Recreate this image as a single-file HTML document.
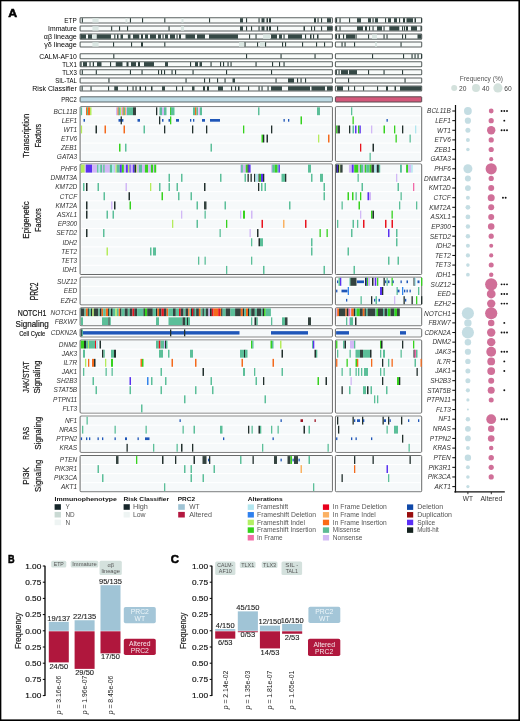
<!DOCTYPE html>
<html><head><meta charset="utf-8"><style>
html,body{margin:0;padding:0;background:#fff;}
svg{display:block;will-change:transform;}
text{font-family:"Liberation Sans",sans-serif;}
</style></head><body>
<svg width="520" height="721" viewBox="0 0 520 721" font-family="Liberation Sans, sans-serif">
<rect x="0" y="0" width="520" height="721" fill="#fff"/>
<text x="8.20" y="16.60" font-size="11.8" fill="#000" font-weight="bold" textLength="8.9" lengthAdjust="spacingAndGlyphs" stroke="#000" stroke-width="0.55">A</text>
<text x="76.80" y="22.80" font-size="6.8" text-anchor="end" textLength="12.5" lengthAdjust="spacingAndGlyphs">ETP</text>
<rect x="80.10" y="17.80" width="252.30" height="5.10" rx="0.7" fill="#f8fbfa" stroke="#5a6160" stroke-width="1.05"/>
<rect x="92.40" y="18.20" width="6.20" height="4.30" fill="#dce8e4"/>
<rect x="125.50" y="18.20" width="1.90" height="4.30" fill="#dce8e4"/>
<rect x="181.50" y="18.20" width="2.00" height="4.30" fill="#dce8e4"/>
<rect x="81.80" y="18.20" width="1.10" height="4.30" fill="#2a3b38"/>
<rect x="129.90" y="18.20" width="1.10" height="4.30" fill="#2a3b38"/>
<rect x="142.00" y="18.20" width="1.10" height="4.30" fill="#2a3b38"/>
<rect x="164.25" y="18.20" width="1.10" height="4.30" fill="#2a3b38"/>
<rect x="209.00" y="18.20" width="1.10" height="4.30" fill="#2a3b38"/>
<rect x="240.00" y="18.20" width="3.00" height="4.30" fill="#354845"/>
<rect x="246.00" y="18.20" width="1.10" height="4.30" fill="#2a3b38"/>
<rect x="258.50" y="18.20" width="1.10" height="4.30" fill="#2a3b38"/>
<rect x="261.50" y="18.20" width="3.00" height="4.30" fill="#354845"/>
<rect x="266.50" y="18.20" width="1.50" height="4.30" fill="#2a3b38"/>
<rect x="269.00" y="18.20" width="2.00" height="4.30" fill="#2a3b38"/>
<rect x="314.00" y="18.20" width="2.00" height="4.30" fill="#2a3b38"/>
<rect x="317.50" y="18.20" width="1.10" height="4.30" fill="#2a3b38"/>
<rect x="321.00" y="18.20" width="1.10" height="4.30" fill="#2a3b38"/>
<rect x="327.00" y="18.20" width="4.00" height="4.30" fill="#354845"/>
<rect x="335.40" y="17.80" width="86.30" height="5.10" rx="0.7" fill="#f8fbfa" stroke="#5a6160" stroke-width="1.05"/>
<rect x="336.00" y="18.20" width="1.10" height="4.30" fill="#2a3b38"/>
<rect x="339.50" y="18.20" width="1.10" height="4.30" fill="#2a3b38"/>
<rect x="349.00" y="18.20" width="1.10" height="4.30" fill="#2a3b38"/>
<rect x="357.00" y="18.20" width="4.00" height="4.30" fill="#354845"/>
<rect x="368.00" y="18.20" width="3.00" height="4.30" fill="#354845"/>
<rect x="372.50" y="18.20" width="1.10" height="4.30" fill="#2a3b38"/>
<rect x="375.00" y="18.20" width="3.00" height="4.30" fill="#354845"/>
<rect x="385.00" y="18.20" width="1.10" height="4.30" fill="#2a3b38"/>
<rect x="388.00" y="18.20" width="3.00" height="4.30" fill="#354845"/>
<rect x="394.00" y="18.20" width="3.00" height="4.30" fill="#354845"/>
<rect x="399.00" y="18.20" width="1.10" height="4.30" fill="#2a3b38"/>
<rect x="403.00" y="18.20" width="2.00" height="4.30" fill="#2a3b38"/>
<rect x="406.50" y="18.20" width="6.50" height="4.30" fill="#354845"/>
<rect x="414.50" y="18.20" width="1.50" height="4.30" fill="#2a3b38"/>
<rect x="421.00" y="18.20" width="1.10" height="4.30" fill="#2a3b38"/>
<text x="76.80" y="30.90" font-size="6.8" text-anchor="end" textLength="28.7" lengthAdjust="spacingAndGlyphs">Immature</text>
<rect x="80.10" y="25.90" width="252.30" height="5.10" rx="0.7" fill="#f8fbfa" stroke="#5a6160" stroke-width="1.05"/>
<rect x="92.40" y="26.30" width="6.20" height="4.30" fill="#dce8e4"/>
<rect x="181.00" y="26.30" width="3.00" height="4.30" fill="#dce8e4"/>
<rect x="111.10" y="26.30" width="1.10" height="4.30" fill="#2a3b38"/>
<rect x="119.00" y="26.30" width="1.10" height="4.30" fill="#2a3b38"/>
<rect x="127.00" y="26.30" width="1.10" height="4.30" fill="#2a3b38"/>
<rect x="168.50" y="26.30" width="1.10" height="4.30" fill="#2a3b38"/>
<rect x="240.00" y="26.30" width="3.00" height="4.30" fill="#354845"/>
<rect x="246.00" y="26.30" width="1.10" height="4.30" fill="#2a3b38"/>
<rect x="251.00" y="26.30" width="1.10" height="4.30" fill="#2a3b38"/>
<rect x="258.50" y="26.30" width="1.10" height="4.30" fill="#2a3b38"/>
<rect x="261.50" y="26.30" width="3.00" height="4.30" fill="#354845"/>
<rect x="266.50" y="26.30" width="1.50" height="4.30" fill="#2a3b38"/>
<rect x="269.00" y="26.30" width="2.00" height="4.30" fill="#2a3b38"/>
<rect x="277.00" y="26.30" width="1.10" height="4.30" fill="#2a3b38"/>
<rect x="303.50" y="26.30" width="1.50" height="4.30" fill="#2a3b38"/>
<rect x="311.00" y="26.30" width="1.10" height="4.30" fill="#2a3b38"/>
<rect x="314.00" y="26.30" width="1.10" height="4.30" fill="#2a3b38"/>
<rect x="321.00" y="26.30" width="1.10" height="4.30" fill="#2a3b38"/>
<rect x="327.00" y="26.30" width="5.00" height="4.30" fill="#354845"/>
<rect x="335.40" y="25.90" width="86.30" height="5.10" rx="0.7" fill="#f8fbfa" stroke="#5a6160" stroke-width="1.05"/>
<rect x="336.00" y="26.30" width="1.10" height="4.30" fill="#2a3b38"/>
<rect x="339.50" y="26.30" width="1.10" height="4.30" fill="#2a3b38"/>
<rect x="357.00" y="26.30" width="6.00" height="4.30" fill="#354845"/>
<rect x="365.00" y="26.30" width="2.00" height="4.30" fill="#2a3b38"/>
<rect x="369.00" y="26.30" width="1.10" height="4.30" fill="#2a3b38"/>
<rect x="372.50" y="26.30" width="1.10" height="4.30" fill="#2a3b38"/>
<rect x="377.00" y="26.30" width="5.00" height="4.30" fill="#354845"/>
<rect x="383.50" y="26.30" width="1.10" height="4.30" fill="#2a3b38"/>
<rect x="389.30" y="26.30" width="10.00" height="4.30" fill="#354845"/>
<rect x="402.00" y="26.30" width="1.10" height="4.30" fill="#2a3b38"/>
<rect x="404.00" y="26.30" width="1.10" height="4.30" fill="#2a3b38"/>
<rect x="406.00" y="26.30" width="2.00" height="4.30" fill="#2a3b38"/>
<rect x="411.00" y="26.30" width="6.00" height="4.30" fill="#354845"/>
<rect x="420.50" y="26.30" width="1.10" height="4.30" fill="#2a3b38"/>
<text x="76.80" y="39.00" font-size="6.8" text-anchor="end" textLength="33.0" lengthAdjust="spacingAndGlyphs">αβ lineage</text>
<rect x="80.10" y="34.00" width="252.30" height="5.10" rx="0.7" fill="#f8fbfa" stroke="#5a6160" stroke-width="1.05"/>
<rect x="92.40" y="34.40" width="4.20" height="4.30" fill="#dce8e4"/>
<rect x="263.00" y="34.40" width="7.00" height="4.30" fill="#dce8e4"/>
<rect x="80.50" y="34.40" width="1.10" height="4.30" fill="#2a3b38"/>
<rect x="81.00" y="34.40" width="5.00" height="4.30" fill="#354845"/>
<rect x="88.00" y="34.40" width="4.00" height="4.30" fill="#354845"/>
<rect x="96.75" y="34.40" width="14.25" height="4.30" fill="#354845"/>
<rect x="114.25" y="34.40" width="1.10" height="4.30" fill="#2a3b38"/>
<rect x="117.00" y="34.40" width="1.50" height="4.30" fill="#2a3b38"/>
<rect x="120.50" y="34.40" width="2.50" height="4.30" fill="#354845"/>
<rect x="127.90" y="34.40" width="2.60" height="4.30" fill="#354845"/>
<rect x="133.00" y="34.40" width="6.25" height="4.30" fill="#354845"/>
<rect x="141.00" y="34.40" width="2.00" height="4.30" fill="#2a3b38"/>
<rect x="145.00" y="34.40" width="3.00" height="4.30" fill="#354845"/>
<rect x="150.00" y="34.40" width="6.00" height="4.30" fill="#354845"/>
<rect x="158.00" y="34.40" width="3.00" height="4.30" fill="#354845"/>
<rect x="162.50" y="34.40" width="1.10" height="4.30" fill="#2a3b38"/>
<rect x="165.00" y="34.40" width="3.00" height="4.30" fill="#354845"/>
<rect x="170.00" y="34.40" width="5.00" height="4.30" fill="#354845"/>
<rect x="176.50" y="34.40" width="1.10" height="4.30" fill="#2a3b38"/>
<rect x="179.00" y="34.40" width="2.00" height="4.30" fill="#2a3b38"/>
<rect x="185.50" y="34.40" width="9.50" height="4.30" fill="#354845"/>
<rect x="197.00" y="34.40" width="8.00" height="4.30" fill="#354845"/>
<rect x="209.00" y="34.40" width="29.00" height="4.30" fill="#354845"/>
<rect x="249.00" y="34.40" width="1.10" height="4.30" fill="#2a3b38"/>
<rect x="255.50" y="34.40" width="1.10" height="4.30" fill="#2a3b38"/>
<rect x="271.00" y="34.40" width="6.00" height="4.30" fill="#354845"/>
<rect x="279.00" y="34.40" width="3.00" height="4.30" fill="#354845"/>
<rect x="283.50" y="34.40" width="1.10" height="4.30" fill="#2a3b38"/>
<rect x="288.00" y="34.40" width="14.00" height="4.30" fill="#354845"/>
<rect x="305.00" y="34.40" width="1.10" height="4.30" fill="#2a3b38"/>
<rect x="310.00" y="34.40" width="1.50" height="4.30" fill="#2a3b38"/>
<rect x="313.00" y="34.40" width="1.10" height="4.30" fill="#2a3b38"/>
<rect x="317.00" y="34.40" width="1.50" height="4.30" fill="#2a3b38"/>
<rect x="335.40" y="34.00" width="86.30" height="5.10" rx="0.7" fill="#f8fbfa" stroke="#5a6160" stroke-width="1.05"/>
<rect x="372.00" y="34.40" width="5.00" height="4.30" fill="#dce8e4"/>
<rect x="335.80" y="34.40" width="1.20" height="4.30" fill="#2a3b38"/>
<rect x="338.50" y="34.40" width="1.50" height="4.30" fill="#2a3b38"/>
<rect x="343.00" y="34.40" width="1.10" height="4.30" fill="#2a3b38"/>
<rect x="346.00" y="34.40" width="9.00" height="4.30" fill="#354845"/>
<rect x="355.50" y="34.40" width="1.10" height="4.30" fill="#2a3b38"/>
<rect x="368.00" y="34.40" width="1.10" height="4.30" fill="#2a3b38"/>
<rect x="383.50" y="34.40" width="1.10" height="4.30" fill="#2a3b38"/>
<rect x="386.50" y="34.40" width="1.10" height="4.30" fill="#2a3b38"/>
<rect x="402.00" y="34.40" width="1.10" height="4.30" fill="#2a3b38"/>
<rect x="405.00" y="34.40" width="1.10" height="4.30" fill="#2a3b38"/>
<rect x="417.50" y="34.40" width="3.80" height="4.30" fill="#354845"/>
<text x="76.80" y="46.90" font-size="6.8" text-anchor="end" textLength="32.5" lengthAdjust="spacingAndGlyphs">γδ lineage</text>
<rect x="80.10" y="41.90" width="252.30" height="5.10" rx="0.7" fill="#f8fbfa" stroke="#5a6160" stroke-width="1.05"/>
<rect x="92.40" y="42.30" width="6.20" height="4.30" fill="#dce8e4"/>
<rect x="239.00" y="42.30" width="5.00" height="4.30" fill="#dce8e4"/>
<rect x="260.00" y="42.30" width="5.00" height="4.30" fill="#dce8e4"/>
<rect x="113.00" y="42.30" width="1.10" height="4.30" fill="#2a3b38"/>
<rect x="131.00" y="42.30" width="1.10" height="4.30" fill="#2a3b38"/>
<rect x="141.00" y="42.30" width="2.00" height="4.30" fill="#2a3b38"/>
<rect x="164.25" y="42.30" width="1.10" height="4.30" fill="#2a3b38"/>
<rect x="244.50" y="42.30" width="1.10" height="4.30" fill="#2a3b38"/>
<rect x="257.00" y="42.30" width="1.10" height="4.30" fill="#2a3b38"/>
<rect x="265.00" y="42.30" width="1.10" height="4.30" fill="#2a3b38"/>
<rect x="282.00" y="42.30" width="1.10" height="4.30" fill="#2a3b38"/>
<rect x="285.00" y="42.30" width="1.10" height="4.30" fill="#2a3b38"/>
<rect x="302.00" y="42.30" width="1.10" height="4.30" fill="#2a3b38"/>
<rect x="316.00" y="42.30" width="1.10" height="4.30" fill="#2a3b38"/>
<rect x="324.00" y="42.30" width="1.10" height="4.30" fill="#2a3b38"/>
<rect x="335.40" y="41.90" width="86.30" height="5.10" rx="0.7" fill="#f8fbfa" stroke="#5a6160" stroke-width="1.05"/>
<rect x="375.00" y="42.30" width="2.00" height="4.30" fill="#dce8e4"/>
<rect x="341.50" y="42.30" width="1.10" height="4.30" fill="#2a3b38"/>
<rect x="344.50" y="42.30" width="1.10" height="4.30" fill="#2a3b38"/>
<rect x="354.00" y="42.30" width="1.10" height="4.30" fill="#2a3b38"/>
<rect x="400.50" y="42.30" width="1.10" height="4.30" fill="#2a3b38"/>
<text x="76.80" y="58.70" font-size="6.8" text-anchor="end" textLength="37.5" lengthAdjust="spacingAndGlyphs">CALM-AF10</text>
<rect x="80.10" y="53.70" width="252.30" height="5.10" rx="0.7" fill="#f8fbfa" stroke="#5a6160" stroke-width="1.05"/>
<rect x="113.25" y="54.10" width="1.10" height="4.30" fill="#2a3b38"/>
<rect x="246.00" y="54.10" width="1.10" height="4.30" fill="#2a3b38"/>
<rect x="280.50" y="54.10" width="1.10" height="4.30" fill="#2a3b38"/>
<rect x="314.50" y="54.10" width="1.10" height="4.30" fill="#2a3b38"/>
<rect x="335.40" y="53.70" width="86.30" height="5.10" rx="0.7" fill="#f8fbfa" stroke="#5a6160" stroke-width="1.05"/>
<rect x="372.00" y="54.10" width="1.10" height="4.30" fill="#2a3b38"/>
<rect x="403.00" y="54.10" width="1.10" height="4.30" fill="#2a3b38"/>
<rect x="411.50" y="54.10" width="1.10" height="4.30" fill="#2a3b38"/>
<rect x="414.50" y="54.10" width="1.10" height="4.30" fill="#2a3b38"/>
<rect x="417.50" y="54.10" width="1.10" height="4.30" fill="#2a3b38"/>
<rect x="421.00" y="54.10" width="1.10" height="4.30" fill="#2a3b38"/>
<text x="76.80" y="66.70" font-size="6.8" text-anchor="end" textLength="14.5" lengthAdjust="spacingAndGlyphs">TLX1</text>
<rect x="80.10" y="61.70" width="252.30" height="5.10" rx="0.7" fill="#f8fbfa" stroke="#5a6160" stroke-width="1.05"/>
<rect x="80.50" y="62.10" width="1.10" height="4.30" fill="#2a3b38"/>
<rect x="83.00" y="62.10" width="4.00" height="4.30" fill="#354845"/>
<rect x="89.50" y="62.10" width="1.10" height="4.30" fill="#2a3b38"/>
<rect x="92.75" y="62.10" width="1.25" height="4.30" fill="#2a3b38"/>
<rect x="97.00" y="62.10" width="4.50" height="4.30" fill="#354845"/>
<rect x="110.00" y="62.10" width="1.10" height="4.30" fill="#2a3b38"/>
<rect x="115.75" y="62.10" width="6.75" height="4.30" fill="#354845"/>
<rect x="126.50" y="62.10" width="2.00" height="4.30" fill="#2a3b38"/>
<rect x="131.00" y="62.10" width="5.00" height="4.30" fill="#354845"/>
<rect x="138.00" y="62.10" width="2.00" height="4.30" fill="#2a3b38"/>
<rect x="144.00" y="62.10" width="10.00" height="4.30" fill="#354845"/>
<rect x="165.00" y="62.10" width="3.00" height="4.30" fill="#354845"/>
<rect x="190.00" y="62.10" width="1.10" height="4.30" fill="#2a3b38"/>
<rect x="195.00" y="62.10" width="3.00" height="4.30" fill="#354845"/>
<rect x="199.50" y="62.10" width="2.50" height="4.30" fill="#354845"/>
<rect x="210.50" y="62.10" width="1.10" height="4.30" fill="#2a3b38"/>
<rect x="220.00" y="62.10" width="1.10" height="4.30" fill="#2a3b38"/>
<rect x="223.00" y="62.10" width="1.10" height="4.30" fill="#2a3b38"/>
<rect x="227.50" y="62.10" width="1.10" height="4.30" fill="#2a3b38"/>
<rect x="230.50" y="62.10" width="1.10" height="4.30" fill="#2a3b38"/>
<rect x="255.50" y="62.10" width="1.10" height="4.30" fill="#2a3b38"/>
<rect x="272.00" y="62.10" width="1.10" height="4.30" fill="#2a3b38"/>
<rect x="279.00" y="62.10" width="1.10" height="4.30" fill="#2a3b38"/>
<rect x="283.50" y="62.10" width="1.10" height="4.30" fill="#2a3b38"/>
<rect x="335.40" y="61.70" width="86.30" height="5.10" rx="0.7" fill="#f8fbfa" stroke="#5a6160" stroke-width="1.05"/>
<text x="76.80" y="74.70" font-size="6.8" text-anchor="end" textLength="14.5" lengthAdjust="spacingAndGlyphs">TLX3</text>
<rect x="80.10" y="69.70" width="252.30" height="5.10" rx="0.7" fill="#f8fbfa" stroke="#5a6160" stroke-width="1.05"/>
<rect x="81.75" y="70.10" width="1.10" height="4.30" fill="#2a3b38"/>
<rect x="95.75" y="70.10" width="1.10" height="4.30" fill="#2a3b38"/>
<rect x="129.90" y="70.10" width="1.10" height="4.30" fill="#2a3b38"/>
<rect x="141.50" y="70.10" width="1.10" height="4.30" fill="#2a3b38"/>
<rect x="158.00" y="70.10" width="1.10" height="4.30" fill="#2a3b38"/>
<rect x="161.00" y="70.10" width="1.10" height="4.30" fill="#2a3b38"/>
<rect x="164.00" y="70.10" width="1.10" height="4.30" fill="#2a3b38"/>
<rect x="171.50" y="70.10" width="1.10" height="4.30" fill="#2a3b38"/>
<rect x="175.00" y="70.10" width="1.10" height="4.30" fill="#2a3b38"/>
<rect x="192.50" y="70.10" width="1.10" height="4.30" fill="#2a3b38"/>
<rect x="226.00" y="70.10" width="1.10" height="4.30" fill="#2a3b38"/>
<rect x="271.00" y="70.10" width="1.10" height="4.30" fill="#2a3b38"/>
<rect x="335.40" y="69.70" width="86.30" height="5.10" rx="0.7" fill="#f8fbfa" stroke="#5a6160" stroke-width="1.05"/>
<rect x="335.80" y="70.10" width="1.10" height="4.30" fill="#2a3b38"/>
<rect x="338.50" y="70.10" width="1.10" height="4.30" fill="#2a3b38"/>
<rect x="341.00" y="70.10" width="7.00" height="4.30" fill="#354845"/>
<rect x="349.00" y="70.10" width="8.00" height="4.30" fill="#354845"/>
<rect x="368.00" y="70.10" width="1.10" height="4.30" fill="#2a3b38"/>
<rect x="383.50" y="70.10" width="1.10" height="4.30" fill="#2a3b38"/>
<rect x="402.00" y="70.10" width="1.10" height="4.30" fill="#2a3b38"/>
<text x="76.80" y="82.90" font-size="6.8" text-anchor="end" textLength="21.5" lengthAdjust="spacingAndGlyphs">SIL-TAL</text>
<rect x="80.10" y="77.90" width="252.30" height="5.10" rx="0.7" fill="#f8fbfa" stroke="#5a6160" stroke-width="1.05"/>
<rect x="108.40" y="78.30" width="1.10" height="4.30" fill="#2a3b38"/>
<rect x="185.50" y="78.30" width="1.10" height="4.30" fill="#2a3b38"/>
<rect x="204.00" y="78.30" width="1.10" height="4.30" fill="#2a3b38"/>
<rect x="209.00" y="78.30" width="1.10" height="4.30" fill="#2a3b38"/>
<rect x="217.00" y="78.30" width="1.10" height="4.30" fill="#2a3b38"/>
<rect x="224.50" y="78.30" width="1.10" height="4.30" fill="#2a3b38"/>
<rect x="232.50" y="78.30" width="2.50" height="4.30" fill="#354845"/>
<rect x="275.50" y="78.30" width="1.10" height="4.30" fill="#2a3b38"/>
<rect x="288.00" y="78.30" width="6.00" height="4.30" fill="#354845"/>
<rect x="297.00" y="78.30" width="1.10" height="4.30" fill="#2a3b38"/>
<rect x="300.50" y="78.30" width="1.10" height="4.30" fill="#2a3b38"/>
<rect x="305.00" y="78.30" width="1.10" height="4.30" fill="#2a3b38"/>
<rect x="335.40" y="77.90" width="86.30" height="5.10" rx="0.7" fill="#f8fbfa" stroke="#5a6160" stroke-width="1.05"/>
<rect x="348.00" y="78.30" width="1.10" height="4.30" fill="#2a3b38"/>
<rect x="404.50" y="78.30" width="1.10" height="4.30" fill="#2a3b38"/>
<text x="76.80" y="90.90" font-size="6.8" text-anchor="end" textLength="44.5" lengthAdjust="spacingAndGlyphs">Risk Classifier</text>
<rect x="80.10" y="85.90" width="252.30" height="5.10" rx="0.7" fill="#f8fbfa" stroke="#5a6160" stroke-width="1.05"/>
<rect x="81.60" y="86.30" width="1.10" height="4.30" fill="#2a3b38"/>
<rect x="90.50" y="86.30" width="1.10" height="4.30" fill="#2a3b38"/>
<rect x="108.00" y="86.30" width="1.10" height="4.30" fill="#2a3b38"/>
<rect x="114.25" y="86.30" width="3.75" height="4.30" fill="#354845"/>
<rect x="127.00" y="86.30" width="1.10" height="4.30" fill="#2a3b38"/>
<rect x="132.50" y="86.30" width="1.10" height="4.30" fill="#2a3b38"/>
<rect x="135.50" y="86.30" width="1.10" height="4.30" fill="#2a3b38"/>
<rect x="139.50" y="86.30" width="1.50" height="4.30" fill="#2a3b38"/>
<rect x="145.00" y="86.30" width="1.10" height="4.30" fill="#2a3b38"/>
<rect x="151.00" y="86.30" width="1.50" height="4.30" fill="#2a3b38"/>
<rect x="162.00" y="86.30" width="3.00" height="4.30" fill="#354845"/>
<rect x="176.00" y="86.30" width="1.10" height="4.30" fill="#2a3b38"/>
<rect x="182.00" y="86.30" width="1.10" height="4.30" fill="#2a3b38"/>
<rect x="192.00" y="86.30" width="2.50" height="4.30" fill="#354845"/>
<rect x="203.00" y="86.30" width="2.00" height="4.30" fill="#2a3b38"/>
<rect x="207.00" y="86.30" width="2.00" height="4.30" fill="#2a3b38"/>
<rect x="218.00" y="86.30" width="5.00" height="4.30" fill="#354845"/>
<rect x="231.00" y="86.30" width="1.10" height="4.30" fill="#2a3b38"/>
<rect x="235.00" y="86.30" width="1.10" height="4.30" fill="#2a3b38"/>
<rect x="238.00" y="86.30" width="1.50" height="4.30" fill="#2a3b38"/>
<rect x="248.00" y="86.30" width="1.10" height="4.30" fill="#2a3b38"/>
<rect x="258.50" y="86.30" width="1.10" height="4.30" fill="#2a3b38"/>
<rect x="261.50" y="86.30" width="1.10" height="4.30" fill="#2a3b38"/>
<rect x="267.50" y="86.30" width="1.10" height="4.30" fill="#2a3b38"/>
<rect x="271.00" y="86.30" width="11.00" height="4.30" fill="#354845"/>
<rect x="288.00" y="86.30" width="22.00" height="4.30" fill="#354845"/>
<rect x="311.50" y="86.30" width="13.50" height="4.30" fill="#354845"/>
<rect x="327.00" y="86.30" width="5.00" height="4.30" fill="#354845"/>
<rect x="335.40" y="85.90" width="86.30" height="5.10" rx="0.7" fill="#f8fbfa" stroke="#5a6160" stroke-width="1.05"/>
<rect x="337.00" y="86.30" width="6.00" height="4.30" fill="#354845"/>
<rect x="348.00" y="86.30" width="1.10" height="4.30" fill="#2a3b38"/>
<rect x="354.00" y="86.30" width="1.10" height="4.30" fill="#2a3b38"/>
<rect x="363.00" y="86.30" width="1.10" height="4.30" fill="#2a3b38"/>
<rect x="377.00" y="86.30" width="1.10" height="4.30" fill="#2a3b38"/>
<rect x="386.00" y="86.30" width="2.00" height="4.30" fill="#2a3b38"/>
<rect x="394.50" y="86.30" width="1.50" height="4.30" fill="#2a3b38"/>
<rect x="400.00" y="86.30" width="21.30" height="4.30" fill="#354845"/>
<text x="76.80" y="101.85" font-size="6.8" text-anchor="end" textLength="15.5" lengthAdjust="spacingAndGlyphs">PRC2</text>
<rect x="80.10" y="96.80" width="252.30" height="5.20" rx="0.6" fill="#bfdbe5" stroke="#5f686a" stroke-width="1"/>
<rect x="335.40" y="96.80" width="86.30" height="5.20" rx="0.6" fill="#d3587a" stroke="#5a4b50" stroke-width="1"/>
<rect x="80.10" y="106.70" width="252.30" height="54.60" rx="0.9" fill="#ffffff" stroke="#686a6a" stroke-width="1"/>
<rect x="81.40" y="107.25" width="249.70" height="8.00" fill="#f6f9fa"/>
<rect x="81.40" y="116.35" width="249.70" height="8.00" fill="#f6f9fa"/>
<rect x="81.40" y="125.45" width="249.70" height="8.00" fill="#f6f9fa"/>
<rect x="81.40" y="134.55" width="249.70" height="8.00" fill="#f6f9fa"/>
<rect x="81.40" y="143.65" width="249.70" height="8.00" fill="#f6f9fa"/>
<rect x="81.40" y="152.75" width="249.70" height="8.00" fill="#f6f9fa"/>
<rect x="335.40" y="106.70" width="86.30" height="54.60" rx="0.9" fill="#ffffff" stroke="#686a6a" stroke-width="1"/>
<rect x="336.70" y="107.25" width="83.70" height="8.00" fill="#f6f9fa"/>
<rect x="336.70" y="116.35" width="83.70" height="8.00" fill="#f6f9fa"/>
<rect x="336.70" y="125.45" width="83.70" height="8.00" fill="#f6f9fa"/>
<rect x="336.70" y="134.55" width="83.70" height="8.00" fill="#f6f9fa"/>
<rect x="336.70" y="143.65" width="83.70" height="8.00" fill="#f6f9fa"/>
<rect x="336.70" y="152.75" width="83.70" height="8.00" fill="#f6f9fa"/>
<text x="77.20" y="113.55" font-size="6.5" fill="#333" text-anchor="end" font-style="italic">BCL11B</text>
<rect x="80.80" y="107.30" width="1.30" height="7.90" fill="#5cbf99"/>
<rect x="86.00" y="107.30" width="1.30" height="7.90" fill="#f46a1c"/>
<rect x="87.00" y="107.30" width="1.30" height="7.90" fill="#5cbf99"/>
<rect x="88.00" y="107.30" width="2.00" height="7.90" fill="#f46a1c"/>
<rect x="90.00" y="107.30" width="1.50" height="7.90" fill="#b5ec5c"/>
<rect x="116.00" y="107.30" width="1.50" height="7.90" fill="#d2b8f6"/>
<rect x="117.50" y="107.30" width="1.30" height="7.90" fill="#f46a1c"/>
<rect x="118.50" y="107.30" width="1.50" height="7.90" fill="#5cbf99"/>
<rect x="120.00" y="107.30" width="1.30" height="7.90" fill="#b5ec5c"/>
<rect x="121.00" y="107.30" width="1.50" height="7.90" fill="#d2b8f6"/>
<rect x="122.50" y="107.30" width="1.30" height="7.90" fill="#f46a1c"/>
<rect x="123.50" y="107.30" width="1.50" height="7.90" fill="#5cbf99"/>
<rect x="125.00" y="107.30" width="1.30" height="7.90" fill="#f9b262"/>
<rect x="126.00" y="107.30" width="1.30" height="7.90" fill="#d2b8f6"/>
<rect x="127.00" y="107.30" width="6.00" height="7.90" fill="#5cbf99"/>
<rect x="133.00" y="107.30" width="3.00" height="7.90" fill="#34433f"/>
<rect x="156.00" y="107.30" width="1.30" height="7.90" fill="#22302d"/>
<rect x="159.50" y="107.30" width="2.50" height="7.90" fill="#5cbf99"/>
<rect x="162.00" y="107.30" width="2.00" height="7.90" fill="#d2b8f6"/>
<rect x="164.00" y="107.30" width="2.50" height="7.90" fill="#5cbf99"/>
<rect x="170.00" y="107.30" width="1.30" height="7.90" fill="#36d21e"/>
<rect x="170.80" y="107.30" width="3.70" height="7.90" fill="#5cbf99"/>
<rect x="193.00" y="107.30" width="2.00" height="7.90" fill="#5cbf99"/>
<rect x="195.00" y="107.30" width="1.50" height="7.90" fill="#f46a1c"/>
<rect x="196.50" y="107.30" width="1.50" height="7.90" fill="#5cbf99"/>
<rect x="198.50" y="107.30" width="1.50" height="7.90" fill="#d2b8f6"/>
<rect x="200.00" y="107.30" width="2.00" height="7.90" fill="#5cbf99"/>
<rect x="258.00" y="107.30" width="1.50" height="7.90" fill="#5cbf99"/>
<rect x="317.00" y="107.30" width="3.00" height="7.90" fill="#5cbf99"/>
<rect x="351.00" y="107.30" width="1.30" height="7.90" fill="#5cbf99"/>
<text x="77.20" y="122.65" font-size="6.5" fill="#333" text-anchor="end" font-style="italic">LEF1</text>
<rect x="83.50" y="119.00" width="1.50" height="2.70" fill="#1f56b8"/>
<rect x="118.50" y="119.00" width="4.90" height="2.70" fill="#1f56b8"/>
<rect x="120.60" y="116.40" width="1.30" height="7.90" fill="#22302d"/>
<rect x="137.50" y="119.00" width="2.50" height="2.70" fill="#1f56b8"/>
<rect x="159.00" y="116.40" width="1.30" height="7.90" fill="#22302d"/>
<rect x="162.00" y="119.00" width="1.50" height="2.70" fill="#1f56b8"/>
<rect x="168.50" y="119.00" width="1.50" height="2.70" fill="#1f56b8"/>
<rect x="170.00" y="116.40" width="1.30" height="7.90" fill="#36d21e"/>
<rect x="176.00" y="119.00" width="3.00" height="2.70" fill="#1f56b8"/>
<rect x="190.00" y="119.00" width="1.30" height="2.70" fill="#1f56b8"/>
<rect x="193.00" y="119.00" width="1.30" height="2.70" fill="#1f56b8"/>
<rect x="202.00" y="119.00" width="3.00" height="2.70" fill="#1f56b8"/>
<rect x="210.00" y="119.00" width="10.00" height="2.70" fill="#1f56b8"/>
<rect x="283.50" y="119.00" width="1.30" height="2.70" fill="#1f56b8"/>
<rect x="288.00" y="119.00" width="1.30" height="2.70" fill="#1f56b8"/>
<rect x="300.50" y="116.40" width="1.50" height="7.90" fill="#36d21e"/>
<rect x="352.50" y="116.40" width="1.30" height="7.90" fill="#36d21e"/>
<rect x="386.50" y="119.00" width="1.30" height="2.70" fill="#1f56b8"/>
<text x="77.20" y="131.75" font-size="6.5" fill="#333" text-anchor="end" font-style="italic">WT1</text>
<rect x="80.80" y="125.50" width="1.30" height="7.90" fill="#b5ec5c"/>
<rect x="95.50" y="125.50" width="1.50" height="7.90" fill="#22302d"/>
<rect x="104.50" y="125.50" width="1.50" height="7.90" fill="#f46a1c"/>
<rect x="123.50" y="125.50" width="1.50" height="7.90" fill="#f46a1c"/>
<rect x="143.50" y="125.50" width="1.50" height="7.90" fill="#5cbf99"/>
<rect x="164.00" y="125.50" width="1.30" height="7.90" fill="#22302d"/>
<rect x="192.00" y="125.50" width="1.30" height="7.90" fill="#22302d"/>
<rect x="206.00" y="125.50" width="1.30" height="7.90" fill="#22302d"/>
<rect x="243.00" y="125.50" width="1.30" height="7.90" fill="#36d21e"/>
<rect x="271.00" y="125.50" width="1.30" height="7.90" fill="#22302d"/>
<rect x="336.10" y="125.50" width="1.30" height="7.90" fill="#36d21e"/>
<rect x="337.50" y="125.50" width="2.50" height="7.90" fill="#34433f"/>
<rect x="349.00" y="125.50" width="1.30" height="7.90" fill="#22302d"/>
<rect x="352.50" y="125.50" width="1.50" height="7.90" fill="#5cbf99"/>
<rect x="355.00" y="125.50" width="1.50" height="7.90" fill="#5a32f0"/>
<rect x="358.00" y="125.50" width="1.50" height="7.90" fill="#36d21e"/>
<rect x="359.50" y="125.50" width="1.30" height="7.90" fill="#5a32f0"/>
<rect x="371.00" y="125.50" width="1.30" height="7.90" fill="#d2b8f6"/>
<rect x="383.50" y="125.50" width="1.50" height="7.90" fill="#36d21e"/>
<rect x="394.00" y="125.50" width="1.30" height="7.90" fill="#36d21e"/>
<rect x="402.00" y="125.50" width="1.30" height="7.90" fill="#22302d"/>
<rect x="415.00" y="125.50" width="1.30" height="7.90" fill="#b0e6ef"/>
<text x="77.20" y="140.85" font-size="6.5" fill="#333" text-anchor="end" font-style="italic">ETV6</text>
<rect x="261.50" y="134.60" width="1.50" height="7.90" fill="#36d21e"/>
<rect x="263.00" y="134.60" width="1.30" height="7.90" fill="#22302d"/>
<rect x="266.50" y="134.60" width="1.50" height="7.90" fill="#22302d"/>
<rect x="318.00" y="134.60" width="1.30" height="7.90" fill="#b5ec5c"/>
<rect x="328.00" y="134.60" width="1.50" height="7.90" fill="#f46a1c"/>
<rect x="395.50" y="134.60" width="1.30" height="7.90" fill="#36d21e"/>
<rect x="409.50" y="134.60" width="1.30" height="7.90" fill="#5cbf99"/>
<text x="77.20" y="149.95" font-size="6.5" fill="#333" text-anchor="end" font-style="italic">ZEB1</text>
<rect x="119.00" y="143.70" width="1.50" height="7.90" fill="#36d21e"/>
<rect x="125.00" y="143.70" width="1.50" height="7.90" fill="#5cbf99"/>
<rect x="210.50" y="143.70" width="1.50" height="7.90" fill="#5cbf99"/>
<rect x="360.00" y="143.70" width="1.30" height="7.90" fill="#e8141e"/>
<rect x="372.50" y="143.70" width="1.50" height="7.90" fill="#22302d"/>
<text x="77.20" y="159.05" font-size="6.5" fill="#333" text-anchor="end" font-style="italic">GATA3</text>
<rect x="369.50" y="152.80" width="1.30" height="7.90" fill="#5cbf99"/>
<rect x="80.10" y="164.00" width="252.30" height="110.50" rx="0.9" fill="#ffffff" stroke="#686a6a" stroke-width="1"/>
<rect x="81.40" y="164.55" width="249.70" height="8.11" fill="#f6f9fa"/>
<rect x="81.40" y="173.76" width="249.70" height="8.11" fill="#f6f9fa"/>
<rect x="81.40" y="182.97" width="249.70" height="8.11" fill="#f6f9fa"/>
<rect x="81.40" y="192.18" width="249.70" height="8.11" fill="#f6f9fa"/>
<rect x="81.40" y="201.38" width="249.70" height="8.11" fill="#f6f9fa"/>
<rect x="81.40" y="210.59" width="249.70" height="8.11" fill="#f6f9fa"/>
<rect x="81.40" y="219.80" width="249.70" height="8.11" fill="#f6f9fa"/>
<rect x="81.40" y="229.01" width="249.70" height="8.11" fill="#f6f9fa"/>
<rect x="81.40" y="238.22" width="249.70" height="8.11" fill="#f6f9fa"/>
<rect x="81.40" y="247.43" width="249.70" height="8.11" fill="#f6f9fa"/>
<rect x="81.40" y="256.63" width="249.70" height="8.11" fill="#f6f9fa"/>
<rect x="81.40" y="265.84" width="249.70" height="8.11" fill="#f6f9fa"/>
<rect x="335.40" y="164.00" width="86.30" height="110.50" rx="0.9" fill="#ffffff" stroke="#686a6a" stroke-width="1"/>
<rect x="336.70" y="164.55" width="83.70" height="8.11" fill="#f6f9fa"/>
<rect x="336.70" y="173.76" width="83.70" height="8.11" fill="#f6f9fa"/>
<rect x="336.70" y="182.97" width="83.70" height="8.11" fill="#f6f9fa"/>
<rect x="336.70" y="192.18" width="83.70" height="8.11" fill="#f6f9fa"/>
<rect x="336.70" y="201.38" width="83.70" height="8.11" fill="#f6f9fa"/>
<rect x="336.70" y="210.59" width="83.70" height="8.11" fill="#f6f9fa"/>
<rect x="336.70" y="219.80" width="83.70" height="8.11" fill="#f6f9fa"/>
<rect x="336.70" y="229.01" width="83.70" height="8.11" fill="#f6f9fa"/>
<rect x="336.70" y="238.22" width="83.70" height="8.11" fill="#f6f9fa"/>
<rect x="336.70" y="247.43" width="83.70" height="8.11" fill="#f6f9fa"/>
<rect x="336.70" y="256.63" width="83.70" height="8.11" fill="#f6f9fa"/>
<rect x="336.70" y="265.84" width="83.70" height="8.11" fill="#f6f9fa"/>
<text x="77.20" y="170.90" font-size="6.5" fill="#333" text-anchor="end" font-style="italic">PHF6</text>
<rect x="80.80" y="164.60" width="1.30" height="8.01" fill="#5cbf99"/>
<rect x="80.90" y="164.60" width="3.90" height="8.01" fill="#b5ec5c"/>
<rect x="84.80" y="164.60" width="1.30" height="8.01" fill="#d2b8f6"/>
<rect x="85.90" y="164.60" width="6.20" height="8.01" fill="#5a32f0"/>
<rect x="92.10" y="164.60" width="5.00" height="8.01" fill="#d2b8f6"/>
<rect x="97.10" y="164.60" width="1.50" height="8.01" fill="#5cbf99"/>
<rect x="98.60" y="164.60" width="1.60" height="8.01" fill="#b0e6ef"/>
<rect x="100.20" y="164.60" width="1.90" height="8.01" fill="#5cbf99"/>
<rect x="102.10" y="164.60" width="1.30" height="8.01" fill="#d2b8f6"/>
<rect x="103.20" y="164.60" width="1.60" height="8.01" fill="#5cbf99"/>
<rect x="104.80" y="164.60" width="5.00" height="8.01" fill="#d2b8f6"/>
<rect x="109.80" y="164.60" width="2.30" height="8.01" fill="#5cbf99"/>
<rect x="112.10" y="164.60" width="1.90" height="8.01" fill="#b0e6ef"/>
<rect x="114.00" y="164.60" width="1.50" height="8.01" fill="#d2b8f6"/>
<rect x="115.50" y="164.60" width="1.30" height="8.01" fill="#b5ec5c"/>
<rect x="116.70" y="164.60" width="3.10" height="8.01" fill="#5cbf99"/>
<rect x="119.80" y="164.60" width="2.00" height="8.01" fill="#5a32f0"/>
<rect x="121.80" y="164.60" width="2.10" height="8.01" fill="#36d21e"/>
<rect x="123.90" y="164.60" width="2.00" height="8.01" fill="#d2b8f6"/>
<rect x="125.90" y="164.60" width="2.00" height="8.01" fill="#5a32f0"/>
<rect x="127.90" y="164.60" width="1.60" height="8.01" fill="#b5ec5c"/>
<rect x="129.50" y="164.60" width="1.30" height="8.01" fill="#5a32f0"/>
<rect x="130.70" y="164.60" width="2.10" height="8.01" fill="#d2b8f6"/>
<rect x="132.80" y="164.60" width="1.60" height="8.01" fill="#5a32f0"/>
<rect x="134.40" y="164.60" width="1.60" height="8.01" fill="#22302d"/>
<rect x="136.00" y="164.60" width="1.30" height="8.01" fill="#b5ec5c"/>
<rect x="136.80" y="164.60" width="2.00" height="8.01" fill="#d2b8f6"/>
<rect x="138.80" y="164.60" width="3.20" height="8.01" fill="#5cbf99"/>
<rect x="142.00" y="164.60" width="2.90" height="8.01" fill="#d2b8f6"/>
<rect x="144.90" y="164.60" width="3.20" height="8.01" fill="#36d21e"/>
<rect x="148.10" y="164.60" width="2.80" height="8.01" fill="#d2b8f6"/>
<rect x="150.90" y="164.60" width="2.10" height="8.01" fill="#36d21e"/>
<rect x="153.00" y="164.60" width="1.30" height="8.01" fill="#d2b8f6"/>
<rect x="154.20" y="164.60" width="2.00" height="8.01" fill="#36d21e"/>
<rect x="240.20" y="164.60" width="1.30" height="8.01" fill="#d2b8f6"/>
<rect x="241.10" y="164.60" width="1.80" height="8.01" fill="#5cbf99"/>
<rect x="242.90" y="164.60" width="2.80" height="8.01" fill="#d2b8f6"/>
<rect x="245.70" y="164.60" width="1.80" height="8.01" fill="#36d21e"/>
<rect x="247.50" y="164.60" width="1.30" height="8.01" fill="#22302d"/>
<rect x="248.50" y="164.60" width="2.10" height="8.01" fill="#5a32f0"/>
<rect x="271.10" y="164.60" width="1.30" height="8.01" fill="#d2b8f6"/>
<rect x="272.20" y="164.60" width="2.60" height="8.01" fill="#5cbf99"/>
<rect x="274.80" y="164.60" width="2.30" height="8.01" fill="#36d21e"/>
<rect x="277.10" y="164.60" width="1.40" height="8.01" fill="#5cbf99"/>
<rect x="278.50" y="164.60" width="1.40" height="8.01" fill="#5a32f0"/>
<rect x="308.00" y="164.60" width="3.00" height="8.01" fill="#5cbf99"/>
<rect x="336.10" y="164.60" width="1.30" height="8.01" fill="#36d21e"/>
<rect x="336.10" y="164.60" width="1.30" height="8.01" fill="#22302d"/>
<rect x="336.80" y="164.60" width="1.30" height="8.01" fill="#5a32f0"/>
<rect x="337.80" y="164.60" width="1.45" height="8.01" fill="#22302d"/>
<rect x="339.25" y="164.60" width="1.30" height="8.01" fill="#b5ec5c"/>
<rect x="340.20" y="164.60" width="2.40" height="8.01" fill="#34433f"/>
<rect x="348.90" y="164.60" width="2.85" height="8.01" fill="#d2b8f6"/>
<rect x="351.75" y="164.60" width="1.95" height="8.01" fill="#5a32f0"/>
<rect x="354.20" y="164.60" width="4.30" height="8.01" fill="#36d21e"/>
<rect x="358.50" y="164.60" width="1.40" height="8.01" fill="#d2b8f6"/>
<rect x="359.90" y="164.60" width="1.30" height="8.01" fill="#36d21e"/>
<rect x="360.80" y="164.60" width="2.50" height="8.01" fill="#5cbf99"/>
<rect x="363.30" y="164.60" width="1.40" height="8.01" fill="#d2b8f6"/>
<rect x="364.70" y="164.60" width="1.50" height="8.01" fill="#36d21e"/>
<rect x="366.20" y="164.60" width="3.30" height="8.01" fill="#5cbf99"/>
<rect x="369.50" y="164.60" width="2.00" height="8.01" fill="#36d21e"/>
<rect x="371.50" y="164.60" width="2.80" height="8.01" fill="#34433f"/>
<rect x="374.30" y="164.60" width="2.45" height="8.01" fill="#b0e6ef"/>
<rect x="376.75" y="164.60" width="2.15" height="8.01" fill="#22302d"/>
<rect x="378.90" y="164.60" width="1.30" height="8.01" fill="#5cbf99"/>
<rect x="400.00" y="164.60" width="1.90" height="8.01" fill="#5cbf99"/>
<rect x="406.10" y="164.60" width="2.00" height="8.01" fill="#36d21e"/>
<rect x="408.10" y="164.60" width="3.10" height="8.01" fill="#d2b8f6"/>
<rect x="411.20" y="164.60" width="1.50" height="8.01" fill="#b0e6ef"/>
<text x="77.20" y="180.11" font-size="6.5" fill="#333" text-anchor="end" font-style="italic">DNMT3A</text>
<rect x="168.50" y="173.81" width="1.50" height="8.01" fill="#5cbf99"/>
<rect x="181.00" y="173.81" width="1.50" height="8.01" fill="#5cbf99"/>
<rect x="220.00" y="173.81" width="1.50" height="8.01" fill="#5cbf99"/>
<rect x="244.50" y="173.81" width="1.50" height="8.01" fill="#5cbf99"/>
<rect x="247.50" y="173.81" width="1.30" height="8.01" fill="#22302d"/>
<rect x="250.50" y="173.81" width="1.30" height="8.01" fill="#22302d"/>
<rect x="254.00" y="173.81" width="1.30" height="8.01" fill="#22302d"/>
<rect x="255.50" y="173.81" width="2.50" height="8.01" fill="#b0e6ef"/>
<rect x="258.50" y="173.81" width="1.30" height="8.01" fill="#22302d"/>
<rect x="259.50" y="173.81" width="1.50" height="8.01" fill="#36d21e"/>
<rect x="261.00" y="173.81" width="2.00" height="8.01" fill="#5a32f0"/>
<rect x="263.00" y="173.81" width="1.30" height="8.01" fill="#22302d"/>
<rect x="281.50" y="173.81" width="3.50" height="8.01" fill="#5cbf99"/>
<rect x="285.00" y="173.81" width="1.30" height="8.01" fill="#22302d"/>
<rect x="311.00" y="173.81" width="1.50" height="8.01" fill="#5cbf99"/>
<rect x="320.00" y="173.81" width="3.00" height="8.01" fill="#5cbf99"/>
<rect x="357.50" y="173.81" width="1.30" height="8.01" fill="#5cbf99"/>
<rect x="396.00" y="173.81" width="1.30" height="8.01" fill="#d2b8f6"/>
<text x="77.20" y="189.32" font-size="6.5" fill="#333" text-anchor="end" font-style="italic">KMT2D</text>
<rect x="83.00" y="183.02" width="1.50" height="8.01" fill="#5cbf99"/>
<rect x="86.00" y="183.02" width="1.50" height="8.01" fill="#22302d"/>
<rect x="97.50" y="183.02" width="1.50" height="8.01" fill="#5cbf99"/>
<rect x="125.50" y="183.02" width="1.50" height="8.01" fill="#d2b8f6"/>
<rect x="150.00" y="183.02" width="1.30" height="8.01" fill="#b5ec5c"/>
<rect x="159.00" y="183.02" width="1.50" height="8.01" fill="#5cbf99"/>
<rect x="168.50" y="183.02" width="1.50" height="8.01" fill="#5cbf99"/>
<rect x="176.50" y="183.02" width="1.50" height="8.01" fill="#5cbf99"/>
<rect x="204.00" y="183.02" width="1.50" height="8.01" fill="#22302d"/>
<rect x="258.00" y="183.02" width="1.30" height="8.01" fill="#22302d"/>
<rect x="261.00" y="183.02" width="1.50" height="8.01" fill="#5cbf99"/>
<rect x="264.50" y="183.02" width="1.50" height="8.01" fill="#5cbf99"/>
<rect x="323.50" y="183.02" width="1.50" height="8.01" fill="#5cbf99"/>
<rect x="361.50" y="183.02" width="1.50" height="8.01" fill="#5cbf99"/>
<rect x="397.50" y="183.02" width="1.50" height="8.01" fill="#5cbf99"/>
<rect x="413.00" y="183.02" width="1.30" height="8.01" fill="#f06aa8"/>
<text x="77.20" y="198.53" font-size="6.5" fill="#333" text-anchor="end" font-style="italic">CTCF</text>
<rect x="103.50" y="192.22" width="1.50" height="8.01" fill="#5cbf99"/>
<rect x="128.50" y="192.22" width="1.50" height="8.01" fill="#22302d"/>
<rect x="161.50" y="192.22" width="1.50" height="8.01" fill="#36d21e"/>
<rect x="178.00" y="192.22" width="1.50" height="8.01" fill="#5cbf99"/>
<rect x="190.50" y="192.22" width="1.50" height="8.01" fill="#5cbf99"/>
<rect x="323.50" y="192.22" width="1.50" height="8.01" fill="#5cbf99"/>
<rect x="347.50" y="192.22" width="1.50" height="8.01" fill="#36d21e"/>
<rect x="352.00" y="192.22" width="1.50" height="8.01" fill="#36d21e"/>
<rect x="355.50" y="192.22" width="1.30" height="8.01" fill="#5cbf99"/>
<rect x="360.00" y="192.22" width="1.30" height="8.01" fill="#36d21e"/>
<rect x="367.50" y="192.22" width="1.50" height="8.01" fill="#5a32f0"/>
<rect x="369.00" y="192.22" width="2.00" height="8.01" fill="#d2b8f6"/>
<rect x="400.50" y="192.22" width="1.30" height="8.01" fill="#5cbf99"/>
<text x="77.20" y="207.74" font-size="6.5" fill="#333" text-anchor="end" font-style="italic">KMT2A</text>
<rect x="86.00" y="201.43" width="1.50" height="8.01" fill="#22302d"/>
<rect x="111.00" y="201.43" width="1.50" height="8.01" fill="#d2b8f6"/>
<rect x="114.00" y="201.43" width="1.50" height="8.01" fill="#22302d"/>
<rect x="129.50" y="201.43" width="1.50" height="8.01" fill="#36d21e"/>
<rect x="196.50" y="201.43" width="1.50" height="8.01" fill="#5cbf99"/>
<rect x="204.00" y="201.43" width="2.50" height="8.01" fill="#34433f"/>
<rect x="224.50" y="201.43" width="1.50" height="8.01" fill="#5cbf99"/>
<rect x="289.00" y="201.43" width="1.50" height="8.01" fill="#5cbf99"/>
<rect x="341.50" y="201.43" width="1.30" height="8.01" fill="#5cbf99"/>
<rect x="358.50" y="201.43" width="1.50" height="8.01" fill="#36d21e"/>
<rect x="399.00" y="201.43" width="1.30" height="8.01" fill="#5cbf99"/>
<rect x="416.00" y="201.43" width="1.30" height="8.01" fill="#5cbf99"/>
<text x="77.20" y="216.95" font-size="6.5" fill="#333" text-anchor="end" font-style="italic">ASXL1</text>
<rect x="86.00" y="210.64" width="1.50" height="8.01" fill="#22302d"/>
<rect x="106.50" y="210.64" width="1.50" height="8.01" fill="#5cbf99"/>
<rect x="112.50" y="210.64" width="1.50" height="8.01" fill="#5cbf99"/>
<rect x="181.00" y="210.64" width="1.30" height="8.01" fill="#d2b8f6"/>
<rect x="204.50" y="210.64" width="1.30" height="8.01" fill="#5cbf99"/>
<rect x="240.00" y="210.64" width="1.30" height="8.01" fill="#d2b8f6"/>
<rect x="243.00" y="210.64" width="2.00" height="8.01" fill="#36d21e"/>
<rect x="251.00" y="210.64" width="1.50" height="8.01" fill="#d2b8f6"/>
<rect x="360.00" y="210.64" width="1.30" height="8.01" fill="#d2b8f6"/>
<rect x="371.00" y="210.64" width="1.50" height="8.01" fill="#36d21e"/>
<rect x="372.50" y="210.64" width="1.50" height="8.01" fill="#22302d"/>
<rect x="391.50" y="210.64" width="1.30" height="8.01" fill="#36d21e"/>
<text x="77.20" y="226.15" font-size="6.5" fill="#333" text-anchor="end" font-style="italic">EP300</text>
<rect x="172.00" y="219.85" width="1.30" height="8.01" fill="#b5ec5c"/>
<rect x="196.50" y="219.85" width="1.50" height="8.01" fill="#5cbf99"/>
<rect x="226.00" y="219.85" width="1.30" height="8.01" fill="#36d21e"/>
<rect x="261.50" y="219.85" width="1.50" height="8.01" fill="#e8141e"/>
<rect x="283.00" y="219.85" width="1.50" height="8.01" fill="#f9b262"/>
<rect x="305.00" y="219.85" width="1.50" height="8.01" fill="#e8141e"/>
<rect x="337.00" y="219.85" width="1.30" height="8.01" fill="#5cbf99"/>
<rect x="352.50" y="219.85" width="1.50" height="8.01" fill="#5cbf99"/>
<rect x="357.00" y="219.85" width="1.30" height="8.01" fill="#5cbf99"/>
<rect x="363.00" y="219.85" width="1.50" height="8.01" fill="#e8141e"/>
<rect x="385.00" y="219.85" width="1.50" height="8.01" fill="#e8141e"/>
<rect x="391.50" y="219.85" width="1.50" height="8.01" fill="#e8141e"/>
<text x="77.20" y="235.36" font-size="6.5" fill="#333" text-anchor="end" font-style="italic">SETD2</text>
<rect x="86.00" y="229.06" width="1.50" height="8.01" fill="#22302d"/>
<rect x="103.00" y="229.06" width="1.50" height="8.01" fill="#5cbf99"/>
<rect x="219.50" y="229.06" width="1.30" height="8.01" fill="#5cbf99"/>
<rect x="249.50" y="229.06" width="1.30" height="8.01" fill="#d2b8f6"/>
<rect x="257.00" y="229.06" width="1.50" height="8.01" fill="#22302d"/>
<rect x="319.50" y="229.06" width="1.30" height="8.01" fill="#36d21e"/>
<rect x="326.50" y="229.06" width="1.30" height="8.01" fill="#36d21e"/>
<rect x="351.00" y="229.06" width="1.50" height="8.01" fill="#5cbf99"/>
<rect x="388.00" y="229.06" width="1.50" height="8.01" fill="#5a32f0"/>
<rect x="396.00" y="229.06" width="1.50" height="8.01" fill="#5cbf99"/>
<text x="77.20" y="244.57" font-size="6.5" fill="#333" text-anchor="end" font-style="italic">IDH2</text>
<rect x="251.00" y="238.27" width="1.30" height="8.01" fill="#5cbf99"/>
<rect x="258.50" y="238.27" width="1.50" height="8.01" fill="#22302d"/>
<rect x="260.00" y="238.27" width="3.00" height="8.01" fill="#5cbf99"/>
<rect x="311.00" y="238.27" width="1.50" height="8.01" fill="#5cbf99"/>
<rect x="396.00" y="238.27" width="1.50" height="8.01" fill="#5cbf99"/>
<text x="77.20" y="253.78" font-size="6.5" fill="#333" text-anchor="end" font-style="italic">TET2</text>
<rect x="106.50" y="247.47" width="1.50" height="8.01" fill="#b5ec5c"/>
<rect x="150.00" y="247.47" width="1.50" height="8.01" fill="#5cbf99"/>
<rect x="153.00" y="247.47" width="3.00" height="8.01" fill="#5cbf99"/>
<rect x="311.00" y="247.47" width="1.50" height="8.01" fill="#5cbf99"/>
<rect x="347.50" y="247.47" width="1.50" height="8.01" fill="#5cbf99"/>
<text x="77.20" y="262.99" font-size="6.5" fill="#333" text-anchor="end" font-style="italic">TET3</text>
<rect x="198.00" y="256.68" width="1.30" height="8.01" fill="#5cbf99"/>
<rect x="204.50" y="256.68" width="1.30" height="8.01" fill="#5cbf99"/>
<rect x="251.00" y="256.68" width="1.30" height="8.01" fill="#5cbf99"/>
<rect x="388.00" y="256.68" width="1.50" height="8.01" fill="#5cbf99"/>
<rect x="397.50" y="256.68" width="1.50" height="8.01" fill="#5cbf99"/>
<text x="77.20" y="272.20" font-size="6.5" fill="#333" text-anchor="end" font-style="italic">IDH1</text>
<rect x="226.00" y="265.89" width="1.30" height="8.01" fill="#5cbf99"/>
<rect x="263.00" y="265.89" width="1.50" height="8.01" fill="#5cbf99"/>
<rect x="323.50" y="265.89" width="1.50" height="8.01" fill="#5cbf99"/>
<rect x="353.50" y="265.89" width="1.50" height="8.01" fill="#5cbf99"/>
<rect x="80.10" y="277.20" width="252.30" height="27.60" rx="0.9" fill="#ffffff" stroke="#686a6a" stroke-width="1"/>
<rect x="81.40" y="277.75" width="249.70" height="8.10" fill="#f6f9fa"/>
<rect x="81.40" y="286.95" width="249.70" height="8.10" fill="#f6f9fa"/>
<rect x="81.40" y="296.15" width="249.70" height="8.10" fill="#f6f9fa"/>
<rect x="335.40" y="277.20" width="86.30" height="27.60" rx="0.9" fill="#ffffff" stroke="#686a6a" stroke-width="1"/>
<rect x="336.70" y="277.75" width="83.70" height="8.10" fill="#f6f9fa"/>
<rect x="336.70" y="286.95" width="83.70" height="8.10" fill="#f6f9fa"/>
<rect x="336.70" y="296.15" width="83.70" height="8.10" fill="#f6f9fa"/>
<text x="77.20" y="284.10" font-size="6.5" fill="#333" text-anchor="end" font-style="italic">SUZ12</text>
<rect x="337.00" y="280.45" width="1.30" height="2.70" fill="#1f56b8"/>
<rect x="338.50" y="277.80" width="1.50" height="8.00" fill="#5cbf99"/>
<rect x="340.00" y="277.80" width="1.30" height="8.00" fill="#5a32f0"/>
<rect x="349.50" y="277.80" width="1.30" height="8.00" fill="#5cbf99"/>
<rect x="350.50" y="277.80" width="6.00" height="8.00" fill="#34433f"/>
<rect x="357.00" y="280.45" width="7.00" height="2.70" fill="#1f56b8"/>
<rect x="365.00" y="277.80" width="1.30" height="8.00" fill="#22302d"/>
<rect x="366.00" y="277.80" width="1.30" height="8.00" fill="#5a32f0"/>
<rect x="366.80" y="277.80" width="1.30" height="8.00" fill="#36d21e"/>
<rect x="368.00" y="277.80" width="2.00" height="8.00" fill="#d2b8f6"/>
<rect x="372.00" y="277.80" width="1.50" height="8.00" fill="#22302d"/>
<rect x="374.00" y="277.80" width="1.30" height="8.00" fill="#d2b8f6"/>
<rect x="375.00" y="277.80" width="1.30" height="8.00" fill="#5a32f0"/>
<rect x="376.00" y="277.80" width="1.30" height="8.00" fill="#d2b8f6"/>
<rect x="377.00" y="277.80" width="1.30" height="8.00" fill="#36d21e"/>
<rect x="383.50" y="277.80" width="1.30" height="8.00" fill="#22302d"/>
<rect x="385.00" y="280.45" width="1.30" height="2.70" fill="#1f56b8"/>
<rect x="386.50" y="277.80" width="1.30" height="8.00" fill="#5cbf99"/>
<rect x="388.00" y="280.45" width="1.50" height="2.70" fill="#1f56b8"/>
<rect x="391.50" y="277.80" width="1.30" height="8.00" fill="#36d21e"/>
<rect x="392.50" y="280.45" width="1.30" height="2.70" fill="#1f56b8"/>
<rect x="400.50" y="280.45" width="1.30" height="2.70" fill="#1f56b8"/>
<rect x="406.50" y="280.45" width="1.50" height="2.70" fill="#1f56b8"/>
<rect x="413.50" y="277.80" width="1.30" height="8.00" fill="#22302d"/>
<rect x="414.50" y="277.80" width="1.50" height="8.00" fill="#b0e6ef"/>
<rect x="417.50" y="280.45" width="2.00" height="2.70" fill="#1f56b8"/>
<rect x="421.00" y="277.80" width="1.30" height="8.00" fill="#36d21e"/>
<text x="77.20" y="293.30" font-size="6.5" fill="#333" text-anchor="end" font-style="italic">EED</text>
<rect x="336.10" y="289.65" width="1.30" height="2.70" fill="#1f56b8"/>
<rect x="341.50" y="289.65" width="6.00" height="2.70" fill="#1f56b8"/>
<rect x="347.70" y="287.00" width="1.30" height="8.00" fill="#3384ea"/>
<rect x="380.00" y="287.00" width="2.00" height="8.00" fill="#5a32f0"/>
<rect x="382.00" y="287.00" width="1.30" height="8.00" fill="#22302d"/>
<rect x="396.50" y="287.00" width="1.30" height="8.00" fill="#5cbf99"/>
<rect x="397.50" y="289.65" width="2.00" height="2.70" fill="#1f56b8"/>
<rect x="402.00" y="287.00" width="1.30" height="8.00" fill="#3384ea"/>
<rect x="404.00" y="289.65" width="1.30" height="2.70" fill="#1f56b8"/>
<rect x="406.50" y="289.65" width="1.30" height="2.70" fill="#1f56b8"/>
<rect x="409.50" y="289.65" width="1.30" height="2.70" fill="#1f56b8"/>
<rect x="418.00" y="287.00" width="1.30" height="8.00" fill="#5cbf99"/>
<text x="77.20" y="302.50" font-size="6.5" fill="#333" text-anchor="end" font-style="italic">EZH2</text>
<rect x="346.00" y="298.85" width="1.30" height="2.70" fill="#1f56b8"/>
<rect x="360.50" y="296.20" width="1.30" height="8.00" fill="#5cbf99"/>
<rect x="371.00" y="296.20" width="1.30" height="8.00" fill="#22302d"/>
<rect x="374.00" y="298.85" width="1.30" height="2.70" fill="#1f56b8"/>
<rect x="375.50" y="296.20" width="1.50" height="8.00" fill="#5cbf99"/>
<rect x="378.50" y="298.85" width="1.50" height="2.70" fill="#1f56b8"/>
<rect x="394.00" y="296.20" width="1.30" height="8.00" fill="#d2b8f6"/>
<rect x="403.50" y="296.20" width="1.30" height="8.00" fill="#22302d"/>
<rect x="405.00" y="298.85" width="1.30" height="2.70" fill="#1f56b8"/>
<rect x="411.50" y="296.20" width="1.30" height="8.00" fill="#22302d"/>
<rect x="416.00" y="296.20" width="1.30" height="8.00" fill="#36d21e"/>
<rect x="421.00" y="296.20" width="1.30" height="8.00" fill="#22302d"/>
<rect x="80.10" y="307.80" width="252.30" height="17.90" rx="0.9" fill="#ffffff" stroke="#686a6a" stroke-width="1"/>
<rect x="81.40" y="308.35" width="249.70" height="7.85" fill="#f6f9fa"/>
<rect x="81.40" y="317.30" width="249.70" height="7.85" fill="#f6f9fa"/>
<rect x="335.40" y="307.80" width="86.30" height="17.90" rx="0.9" fill="#ffffff" stroke="#686a6a" stroke-width="1"/>
<rect x="336.70" y="308.35" width="83.70" height="7.85" fill="#f6f9fa"/>
<rect x="336.70" y="317.30" width="83.70" height="7.85" fill="#f6f9fa"/>
<text x="77.20" y="314.57" font-size="6.5" fill="#333" text-anchor="end" font-style="italic">NOTCH1</text>
<rect x="80.80" y="308.40" width="1.30" height="7.75" fill="#5cbf99"/>
<rect x="80.80" y="308.40" width="3.70" height="7.75" fill="#34433f"/>
<rect x="84.50" y="308.40" width="1.40" height="7.75" fill="#5cbf99"/>
<rect x="85.90" y="308.40" width="1.90" height="7.75" fill="#f46a1c"/>
<rect x="87.80" y="308.40" width="1.30" height="7.75" fill="#22302d"/>
<rect x="88.70" y="308.40" width="2.30" height="7.75" fill="#5cbf99"/>
<rect x="91.00" y="308.40" width="1.40" height="7.75" fill="#22302d"/>
<rect x="92.40" y="308.40" width="1.40" height="7.75" fill="#b5ec5c"/>
<rect x="93.80" y="308.40" width="4.60" height="7.75" fill="#34433f"/>
<rect x="98.40" y="308.40" width="1.40" height="7.75" fill="#5cbf99"/>
<rect x="99.80" y="308.40" width="1.80" height="7.75" fill="#22302d"/>
<rect x="101.60" y="308.40" width="1.60" height="7.75" fill="#f46a1c"/>
<rect x="103.20" y="308.40" width="2.60" height="7.75" fill="#5cbf99"/>
<rect x="105.80" y="308.40" width="2.30" height="7.75" fill="#f46a1c"/>
<rect x="108.10" y="308.40" width="1.30" height="7.75" fill="#22302d"/>
<rect x="109.00" y="308.40" width="1.90" height="7.75" fill="#5cbf99"/>
<rect x="110.90" y="308.40" width="1.80" height="7.75" fill="#22302d"/>
<rect x="112.70" y="308.40" width="2.80" height="7.75" fill="#5cbf99"/>
<rect x="115.50" y="308.40" width="1.40" height="7.75" fill="#b5ec5c"/>
<rect x="116.90" y="308.40" width="1.80" height="7.75" fill="#5cbf99"/>
<rect x="118.70" y="308.40" width="1.40" height="7.75" fill="#f46a1c"/>
<rect x="120.10" y="308.40" width="1.40" height="7.75" fill="#22302d"/>
<rect x="121.50" y="308.40" width="3.20" height="7.75" fill="#5cbf99"/>
<rect x="124.70" y="308.40" width="3.10" height="7.75" fill="#34433f"/>
<rect x="127.80" y="308.40" width="1.90" height="7.75" fill="#5cbf99"/>
<rect x="129.70" y="308.40" width="2.80" height="7.75" fill="#34433f"/>
<rect x="132.50" y="308.40" width="1.80" height="7.75" fill="#e8141e"/>
<rect x="134.30" y="308.40" width="2.80" height="7.75" fill="#34433f"/>
<rect x="137.10" y="308.40" width="6.40" height="7.75" fill="#5cbf99"/>
<rect x="143.50" y="308.40" width="1.40" height="7.75" fill="#22302d"/>
<rect x="144.90" y="308.40" width="2.30" height="7.75" fill="#36d21e"/>
<rect x="147.20" y="308.40" width="5.60" height="7.75" fill="#34433f"/>
<rect x="152.80" y="308.40" width="3.20" height="7.75" fill="#5cbf99"/>
<rect x="156.00" y="308.40" width="1.40" height="7.75" fill="#22302d"/>
<rect x="157.40" y="308.40" width="1.70" height="7.75" fill="#f46a1c"/>
<rect x="159.10" y="308.40" width="2.40" height="7.75" fill="#34433f"/>
<rect x="161.50" y="308.40" width="2.40" height="7.75" fill="#e8141e"/>
<rect x="163.90" y="308.40" width="2.70" height="7.75" fill="#34433f"/>
<rect x="166.60" y="308.40" width="1.70" height="7.75" fill="#f46a1c"/>
<rect x="168.30" y="308.40" width="4.70" height="7.75" fill="#5cbf99"/>
<rect x="173.00" y="308.40" width="2.80" height="7.75" fill="#34433f"/>
<rect x="175.80" y="308.40" width="3.20" height="7.75" fill="#5cbf99"/>
<rect x="179.00" y="308.40" width="1.80" height="7.75" fill="#e8141e"/>
<rect x="180.80" y="308.40" width="2.80" height="7.75" fill="#34433f"/>
<rect x="183.60" y="308.40" width="1.90" height="7.75" fill="#5cbf99"/>
<rect x="185.50" y="308.40" width="2.70" height="7.75" fill="#34433f"/>
<rect x="188.20" y="308.40" width="1.40" height="7.75" fill="#f46a1c"/>
<rect x="189.60" y="308.40" width="1.40" height="7.75" fill="#5cbf99"/>
<rect x="191.00" y="308.40" width="1.30" height="7.75" fill="#22302d"/>
<rect x="191.90" y="308.40" width="1.40" height="7.75" fill="#e8141e"/>
<rect x="193.30" y="308.40" width="1.40" height="7.75" fill="#22302d"/>
<rect x="194.70" y="308.40" width="1.40" height="7.75" fill="#5cbf99"/>
<rect x="196.10" y="308.40" width="2.80" height="7.75" fill="#34433f"/>
<rect x="198.90" y="308.40" width="1.80" height="7.75" fill="#f46a1c"/>
<rect x="200.70" y="308.40" width="1.80" height="7.75" fill="#5cbf99"/>
<rect x="202.50" y="308.40" width="1.40" height="7.75" fill="#22302d"/>
<rect x="203.90" y="308.40" width="1.90" height="7.75" fill="#5cbf99"/>
<rect x="205.80" y="308.40" width="2.70" height="7.75" fill="#34433f"/>
<rect x="208.50" y="308.40" width="1.40" height="7.75" fill="#d2b8f6"/>
<rect x="209.90" y="308.40" width="1.90" height="7.75" fill="#22302d"/>
<rect x="211.80" y="308.40" width="1.80" height="7.75" fill="#e8141e"/>
<rect x="213.60" y="308.40" width="4.60" height="7.75" fill="#f46a1c"/>
<rect x="218.20" y="308.40" width="1.80" height="7.75" fill="#e8141e"/>
<rect x="220.00" y="308.40" width="1.30" height="7.75" fill="#f46a1c"/>
<rect x="221.20" y="308.40" width="1.40" height="7.75" fill="#22302d"/>
<rect x="222.60" y="308.40" width="3.10" height="7.75" fill="#5cbf99"/>
<rect x="225.70" y="308.40" width="4.70" height="7.75" fill="#34433f"/>
<rect x="230.40" y="308.40" width="4.70" height="7.75" fill="#5cbf99"/>
<rect x="235.10" y="308.40" width="5.70" height="7.75" fill="#34433f"/>
<rect x="240.80" y="308.40" width="2.00" height="7.75" fill="#f46a1c"/>
<rect x="242.80" y="308.40" width="1.60" height="7.75" fill="#22302d"/>
<rect x="244.40" y="308.40" width="1.60" height="7.75" fill="#5cbf99"/>
<rect x="246.00" y="308.40" width="2.00" height="7.75" fill="#f46a1c"/>
<rect x="248.00" y="308.40" width="1.30" height="7.75" fill="#22302d"/>
<rect x="249.10" y="308.40" width="2.10" height="7.75" fill="#5cbf99"/>
<rect x="251.20" y="308.40" width="3.60" height="7.75" fill="#34433f"/>
<rect x="254.80" y="308.40" width="2.10" height="7.75" fill="#5cbf99"/>
<rect x="256.90" y="308.40" width="4.10" height="7.75" fill="#34433f"/>
<rect x="261.00" y="308.40" width="1.60" height="7.75" fill="#5cbf99"/>
<rect x="262.60" y="308.40" width="1.50" height="7.75" fill="#22302d"/>
<rect x="264.10" y="308.40" width="1.60" height="7.75" fill="#36d21e"/>
<rect x="265.70" y="308.40" width="5.20" height="7.75" fill="#5cbf99"/>
<rect x="336.10" y="308.40" width="1.30" height="7.75" fill="#f46a1c"/>
<rect x="336.10" y="308.40" width="1.30" height="7.75" fill="#d2b8f6"/>
<rect x="337.30" y="308.40" width="1.70" height="7.75" fill="#f46a1c"/>
<rect x="339.00" y="308.40" width="6.50" height="7.75" fill="#34433f"/>
<rect x="345.50" y="308.40" width="1.30" height="7.75" fill="#f46a1c"/>
<rect x="346.80" y="308.40" width="1.80" height="7.75" fill="#22302d"/>
<rect x="348.60" y="308.40" width="1.40" height="7.75" fill="#f06aa8"/>
<rect x="350.00" y="308.40" width="1.30" height="7.75" fill="#d2b8f6"/>
<rect x="351.20" y="308.40" width="2.60" height="7.75" fill="#f46a1c"/>
<rect x="353.80" y="308.40" width="1.30" height="7.75" fill="#22302d"/>
<rect x="355.00" y="308.40" width="1.80" height="7.75" fill="#5cbf99"/>
<rect x="356.80" y="308.40" width="3.00" height="7.75" fill="#36d21e"/>
<rect x="359.80" y="308.40" width="3.00" height="7.75" fill="#34433f"/>
<rect x="362.80" y="308.40" width="1.80" height="7.75" fill="#f46a1c"/>
<rect x="364.60" y="308.40" width="1.30" height="7.75" fill="#22302d"/>
<rect x="365.90" y="308.40" width="1.70" height="7.75" fill="#5cbf99"/>
<rect x="367.60" y="308.40" width="7.80" height="7.75" fill="#34433f"/>
<rect x="375.40" y="308.40" width="1.30" height="7.75" fill="#5cbf99"/>
<rect x="376.50" y="308.40" width="1.50" height="7.75" fill="#36d21e"/>
<rect x="378.00" y="308.40" width="5.00" height="7.75" fill="#34433f"/>
<rect x="383.00" y="308.40" width="1.50" height="7.75" fill="#5cbf99"/>
<rect x="384.50" y="308.40" width="2.50" height="7.75" fill="#34433f"/>
<rect x="387.00" y="308.40" width="1.30" height="7.75" fill="#5cbf99"/>
<rect x="388.00" y="308.40" width="2.50" height="7.75" fill="#36d21e"/>
<rect x="390.50" y="308.40" width="3.50" height="7.75" fill="#34433f"/>
<rect x="394.00" y="308.40" width="1.30" height="7.75" fill="#5cbf99"/>
<rect x="394.50" y="308.40" width="2.50" height="7.75" fill="#36d21e"/>
<rect x="397.00" y="308.40" width="2.80" height="7.75" fill="#34433f"/>
<text x="77.20" y="323.53" font-size="6.5" fill="#333" text-anchor="end" font-style="italic">FBXW7</text>
<rect x="80.80" y="317.35" width="2.20" height="7.75" fill="#5cbf99"/>
<rect x="102.00" y="317.35" width="6.50" height="7.75" fill="#5cbf99"/>
<rect x="108.50" y="317.35" width="1.30" height="7.75" fill="#22302d"/>
<rect x="109.50" y="317.35" width="1.30" height="7.75" fill="#5cbf99"/>
<rect x="156.00" y="317.35" width="3.00" height="7.75" fill="#5cbf99"/>
<rect x="168.50" y="317.35" width="14.00" height="7.75" fill="#5cbf99"/>
<rect x="182.50" y="317.35" width="2.50" height="7.75" fill="#34433f"/>
<rect x="185.00" y="317.35" width="2.00" height="7.75" fill="#5cbf99"/>
<rect x="187.00" y="317.35" width="1.30" height="7.75" fill="#22302d"/>
<rect x="188.00" y="317.35" width="2.00" height="7.75" fill="#5cbf99"/>
<rect x="251.00" y="317.35" width="1.30" height="7.75" fill="#5cbf99"/>
<rect x="254.50" y="317.35" width="2.00" height="7.75" fill="#22302d"/>
<rect x="256.50" y="317.35" width="1.30" height="7.75" fill="#5cbf99"/>
<rect x="271.00" y="317.35" width="1.30" height="7.75" fill="#5cbf99"/>
<rect x="282.00" y="317.35" width="3.00" height="7.75" fill="#5cbf99"/>
<rect x="285.00" y="317.35" width="2.50" height="7.75" fill="#34433f"/>
<rect x="308.00" y="317.35" width="3.00" height="7.75" fill="#34433f"/>
<rect x="346.00" y="317.35" width="1.30" height="7.75" fill="#5cbf99"/>
<rect x="349.00" y="317.35" width="1.30" height="7.75" fill="#d2b8f6"/>
<rect x="350.00" y="317.35" width="3.00" height="7.75" fill="#5cbf99"/>
<rect x="355.00" y="317.35" width="1.50" height="7.75" fill="#22302d"/>
<rect x="80.10" y="328.80" width="252.30" height="8.10" rx="0.9" fill="#ffffff" stroke="#686a6a" stroke-width="1"/>
<rect x="81.40" y="329.35" width="249.70" height="7.00" fill="#f6f9fa"/>
<rect x="335.40" y="328.80" width="86.30" height="8.10" rx="0.9" fill="#ffffff" stroke="#686a6a" stroke-width="1"/>
<rect x="336.70" y="329.35" width="83.70" height="7.00" fill="#f6f9fa"/>
<text x="77.20" y="335.15" font-size="6.5" fill="#333" text-anchor="end" font-style="italic">CDKN2A</text>
<rect x="80.80" y="329.40" width="1.30" height="6.90" fill="#22302d"/>
<rect x="81.70" y="329.40" width="1.30" height="6.90" fill="#5cbf99"/>
<rect x="82.80" y="331.15" width="156.70" height="3.40" fill="#1f56b8"/>
<rect x="170.00" y="329.40" width="1.30" height="6.90" fill="#22302d"/>
<rect x="184.00" y="329.40" width="1.30" height="6.90" fill="#22302d"/>
<rect x="271.00" y="331.15" width="37.00" height="3.40" fill="#1f56b8"/>
<rect x="336.10" y="331.15" width="12.90" height="3.40" fill="#1f56b8"/>
<rect x="400.00" y="331.15" width="6.00" height="3.40" fill="#1f56b8"/>
<rect x="80.10" y="340.00" width="252.30" height="73.00" rx="0.9" fill="#ffffff" stroke="#686a6a" stroke-width="1"/>
<rect x="81.40" y="340.55" width="249.70" height="8.03" fill="#f6f9fa"/>
<rect x="81.40" y="349.68" width="249.70" height="8.03" fill="#f6f9fa"/>
<rect x="81.40" y="358.80" width="249.70" height="8.03" fill="#f6f9fa"/>
<rect x="81.40" y="367.93" width="249.70" height="8.03" fill="#f6f9fa"/>
<rect x="81.40" y="377.05" width="249.70" height="8.03" fill="#f6f9fa"/>
<rect x="81.40" y="386.18" width="249.70" height="8.03" fill="#f6f9fa"/>
<rect x="81.40" y="395.30" width="249.70" height="8.03" fill="#f6f9fa"/>
<rect x="81.40" y="404.43" width="249.70" height="8.03" fill="#f6f9fa"/>
<rect x="335.40" y="340.00" width="86.30" height="73.00" rx="0.9" fill="#ffffff" stroke="#686a6a" stroke-width="1"/>
<rect x="336.70" y="340.55" width="83.70" height="8.03" fill="#f6f9fa"/>
<rect x="336.70" y="349.68" width="83.70" height="8.03" fill="#f6f9fa"/>
<rect x="336.70" y="358.80" width="83.70" height="8.03" fill="#f6f9fa"/>
<rect x="336.70" y="367.93" width="83.70" height="8.03" fill="#f6f9fa"/>
<rect x="336.70" y="377.05" width="83.70" height="8.03" fill="#f6f9fa"/>
<rect x="336.70" y="386.18" width="83.70" height="8.03" fill="#f6f9fa"/>
<rect x="336.70" y="395.30" width="83.70" height="8.03" fill="#f6f9fa"/>
<rect x="336.70" y="404.43" width="83.70" height="8.03" fill="#f6f9fa"/>
<text x="77.20" y="346.86" font-size="6.5" fill="#333" text-anchor="end" font-style="italic">DNM2</text>
<rect x="80.80" y="340.60" width="3.20" height="7.92" fill="#36d21e"/>
<rect x="84.00" y="340.60" width="2.00" height="7.92" fill="#22302d"/>
<rect x="86.00" y="340.60" width="2.00" height="7.92" fill="#5cbf99"/>
<rect x="88.00" y="340.60" width="1.30" height="7.92" fill="#b5ec5c"/>
<rect x="89.00" y="340.60" width="6.00" height="7.92" fill="#5cbf99"/>
<rect x="95.00" y="340.60" width="1.30" height="7.92" fill="#e8141e"/>
<rect x="96.00" y="340.60" width="2.00" height="7.92" fill="#b0e6ef"/>
<rect x="99.50" y="340.60" width="1.50" height="7.92" fill="#22302d"/>
<rect x="156.00" y="340.60" width="2.80" height="7.92" fill="#5cbf99"/>
<rect x="158.80" y="340.60" width="1.70" height="7.92" fill="#e8141e"/>
<rect x="160.50" y="340.60" width="3.50" height="7.92" fill="#5cbf99"/>
<rect x="164.00" y="340.60" width="1.30" height="7.92" fill="#d2b8f6"/>
<rect x="165.00" y="340.60" width="1.30" height="7.92" fill="#22302d"/>
<rect x="166.00" y="340.60" width="1.50" height="7.92" fill="#5cbf99"/>
<rect x="251.00" y="340.60" width="1.30" height="7.92" fill="#36d21e"/>
<rect x="252.20" y="340.60" width="1.30" height="7.92" fill="#5cbf99"/>
<rect x="270.50" y="340.60" width="1.50" height="7.92" fill="#36d21e"/>
<rect x="272.00" y="340.60" width="1.50" height="7.92" fill="#5cbf99"/>
<rect x="280.00" y="340.60" width="1.50" height="7.92" fill="#b5ec5c"/>
<rect x="312.00" y="340.60" width="1.30" height="7.92" fill="#5cbf99"/>
<rect x="313.00" y="340.60" width="1.30" height="7.92" fill="#5a32f0"/>
<rect x="336.10" y="340.60" width="1.30" height="7.92" fill="#36d21e"/>
<rect x="343.00" y="340.60" width="1.50" height="7.92" fill="#5cbf99"/>
<rect x="344.50" y="340.60" width="1.50" height="7.92" fill="#22302d"/>
<rect x="350.00" y="340.60" width="4.00" height="7.92" fill="#d2b8f6"/>
<rect x="354.00" y="340.60" width="1.30" height="7.92" fill="#5cbf99"/>
<rect x="380.00" y="340.60" width="1.30" height="7.92" fill="#36d21e"/>
<rect x="381.00" y="340.60" width="1.50" height="7.92" fill="#22302d"/>
<rect x="402.00" y="340.60" width="1.30" height="7.92" fill="#22302d"/>
<rect x="413.00" y="340.60" width="1.30" height="7.92" fill="#36d21e"/>
<text x="77.20" y="355.99" font-size="6.5" fill="#333" text-anchor="end" font-style="italic">JAK3</text>
<rect x="83.00" y="349.73" width="2.00" height="7.92" fill="#5cbf99"/>
<rect x="102.00" y="349.73" width="1.50" height="7.92" fill="#22302d"/>
<rect x="103.50" y="349.73" width="1.30" height="7.92" fill="#5cbf99"/>
<rect x="111.00" y="349.73" width="3.00" height="7.92" fill="#5cbf99"/>
<rect x="114.00" y="349.73" width="2.00" height="7.92" fill="#22302d"/>
<rect x="159.00" y="349.73" width="4.00" height="7.92" fill="#5cbf99"/>
<rect x="168.00" y="349.73" width="1.50" height="7.92" fill="#5cbf99"/>
<rect x="190.00" y="349.73" width="3.00" height="7.92" fill="#5cbf99"/>
<rect x="240.00" y="349.73" width="4.00" height="7.92" fill="#5cbf99"/>
<rect x="244.00" y="349.73" width="1.30" height="7.92" fill="#22302d"/>
<rect x="245.00" y="349.73" width="2.50" height="7.92" fill="#5cbf99"/>
<rect x="281.50" y="349.73" width="1.50" height="7.92" fill="#22302d"/>
<rect x="314.50" y="349.73" width="1.50" height="7.92" fill="#22302d"/>
<rect x="316.00" y="349.73" width="1.30" height="7.92" fill="#5cbf99"/>
<rect x="337.00" y="349.73" width="1.30" height="7.92" fill="#5cbf99"/>
<rect x="349.50" y="349.73" width="1.30" height="7.92" fill="#5cbf99"/>
<rect x="355.50" y="349.73" width="4.50" height="7.92" fill="#5cbf99"/>
<rect x="360.00" y="349.73" width="3.00" height="7.92" fill="#34433f"/>
<rect x="363.00" y="349.73" width="7.00" height="7.92" fill="#5cbf99"/>
<rect x="370.00" y="349.73" width="1.50" height="7.92" fill="#22302d"/>
<rect x="380.00" y="349.73" width="1.30" height="7.92" fill="#5cbf99"/>
<rect x="383.00" y="349.73" width="2.00" height="7.92" fill="#5cbf99"/>
<rect x="400.50" y="349.73" width="1.30" height="7.92" fill="#5cbf99"/>
<rect x="413.50" y="349.73" width="1.30" height="7.92" fill="#22302d"/>
<rect x="414.50" y="349.73" width="1.50" height="7.92" fill="#f06aa8"/>
<rect x="416.00" y="349.73" width="1.50" height="7.92" fill="#5cbf99"/>
<text x="77.20" y="365.11" font-size="6.5" fill="#333" text-anchor="end" font-style="italic">IL7R</text>
<rect x="85.00" y="358.85" width="1.30" height="7.92" fill="#b5ec5c"/>
<rect x="88.00" y="358.85" width="1.30" height="7.92" fill="#f46a1c"/>
<rect x="92.00" y="358.85" width="2.00" height="7.92" fill="#f46a1c"/>
<rect x="94.00" y="358.85" width="1.50" height="7.92" fill="#22302d"/>
<rect x="105.00" y="358.85" width="1.30" height="7.92" fill="#b5ec5c"/>
<rect x="111.00" y="358.85" width="2.00" height="7.92" fill="#36d21e"/>
<rect x="140.50" y="358.85" width="1.50" height="7.92" fill="#f46a1c"/>
<rect x="142.00" y="358.85" width="1.50" height="7.92" fill="#36d21e"/>
<rect x="171.50" y="358.85" width="1.50" height="7.92" fill="#f46a1c"/>
<rect x="195.00" y="358.85" width="1.50" height="7.92" fill="#f46a1c"/>
<rect x="241.50" y="358.85" width="1.50" height="7.92" fill="#f46a1c"/>
<rect x="272.50" y="358.85" width="1.50" height="7.92" fill="#f46a1c"/>
<rect x="336.10" y="358.85" width="1.30" height="7.92" fill="#f46a1c"/>
<rect x="346.50" y="358.85" width="1.30" height="7.92" fill="#36d21e"/>
<rect x="355.50" y="358.85" width="1.50" height="7.92" fill="#36d21e"/>
<rect x="357.00" y="358.85" width="1.30" height="7.92" fill="#f46a1c"/>
<rect x="371.00" y="358.85" width="1.30" height="7.92" fill="#f46a1c"/>
<rect x="382.00" y="358.85" width="1.30" height="7.92" fill="#22302d"/>
<rect x="388.00" y="358.85" width="1.30" height="7.92" fill="#5cbf99"/>
<rect x="391.50" y="358.85" width="1.30" height="7.92" fill="#f46a1c"/>
<rect x="414.50" y="358.85" width="1.50" height="7.92" fill="#5cbf99"/>
<rect x="420.50" y="358.85" width="1.30" height="7.92" fill="#f46a1c"/>
<text x="77.20" y="374.24" font-size="6.5" fill="#333" text-anchor="end" font-style="italic">JAK1</text>
<rect x="83.00" y="367.98" width="1.30" height="7.92" fill="#5cbf99"/>
<rect x="105.50" y="367.98" width="1.30" height="7.92" fill="#5cbf99"/>
<rect x="111.50" y="367.98" width="1.30" height="7.92" fill="#5cbf99"/>
<rect x="160.50" y="367.98" width="1.50" height="7.92" fill="#5cbf99"/>
<rect x="202.50" y="367.98" width="1.50" height="7.92" fill="#22302d"/>
<rect x="243.00" y="367.98" width="2.00" height="7.92" fill="#5cbf99"/>
<rect x="254.00" y="367.98" width="1.30" height="7.92" fill="#5cbf99"/>
<rect x="281.50" y="367.98" width="1.50" height="7.92" fill="#5cbf99"/>
<rect x="341.50" y="367.98" width="1.30" height="7.92" fill="#5cbf99"/>
<rect x="349.50" y="367.98" width="1.30" height="7.92" fill="#5cbf99"/>
<rect x="355.50" y="367.98" width="1.30" height="7.92" fill="#5cbf99"/>
<rect x="358.00" y="367.98" width="1.30" height="7.92" fill="#5cbf99"/>
<rect x="361.00" y="367.98" width="1.30" height="7.92" fill="#5cbf99"/>
<rect x="364.00" y="367.98" width="4.00" height="7.92" fill="#5cbf99"/>
<rect x="380.00" y="367.98" width="1.30" height="7.92" fill="#5cbf99"/>
<rect x="383.50" y="367.98" width="1.30" height="7.92" fill="#5cbf99"/>
<rect x="416.50" y="367.98" width="1.30" height="7.92" fill="#22302d"/>
<text x="77.20" y="383.36" font-size="6.5" fill="#333" text-anchor="end" font-style="italic">SH2B3</text>
<rect x="92.50" y="377.10" width="1.50" height="7.92" fill="#5cbf99"/>
<rect x="129.50" y="377.10" width="1.50" height="7.92" fill="#5a32f0"/>
<rect x="147.00" y="377.10" width="1.50" height="7.92" fill="#3384ea"/>
<rect x="151.00" y="377.10" width="1.50" height="7.92" fill="#5cbf99"/>
<rect x="165.00" y="377.10" width="1.50" height="7.92" fill="#5cbf99"/>
<rect x="210.50" y="377.10" width="1.50" height="7.92" fill="#5cbf99"/>
<rect x="255.50" y="377.10" width="1.50" height="7.92" fill="#5cbf99"/>
<rect x="263.00" y="377.10" width="1.30" height="7.92" fill="#22302d"/>
<rect x="317.50" y="377.10" width="1.50" height="7.92" fill="#36d21e"/>
<rect x="325.50" y="377.10" width="1.50" height="7.92" fill="#22302d"/>
<rect x="350.50" y="377.10" width="1.30" height="7.92" fill="#d2b8f6"/>
<rect x="382.00" y="377.10" width="1.30" height="7.92" fill="#22302d"/>
<rect x="397.00" y="377.10" width="2.00" height="7.92" fill="#36d21e"/>
<rect x="399.00" y="377.10" width="1.30" height="7.92" fill="#22302d"/>
<text x="77.20" y="392.49" font-size="6.5" fill="#333" text-anchor="end" font-style="italic">STAT5B</text>
<rect x="95.50" y="386.23" width="1.50" height="7.92" fill="#5cbf99"/>
<rect x="129.50" y="386.23" width="1.50" height="7.92" fill="#5cbf99"/>
<rect x="160.50" y="386.23" width="1.50" height="7.92" fill="#5cbf99"/>
<rect x="195.00" y="386.23" width="1.50" height="7.92" fill="#5cbf99"/>
<rect x="212.00" y="386.23" width="1.50" height="7.92" fill="#5cbf99"/>
<rect x="341.50" y="386.23" width="1.30" height="7.92" fill="#22302d"/>
<rect x="349.00" y="386.23" width="1.50" height="7.92" fill="#5cbf99"/>
<rect x="363.00" y="386.23" width="3.00" height="7.92" fill="#5cbf99"/>
<rect x="367.00" y="386.23" width="1.50" height="7.92" fill="#22302d"/>
<rect x="370.50" y="386.23" width="1.50" height="7.92" fill="#5cbf99"/>
<rect x="386.00" y="386.23" width="1.50" height="7.92" fill="#5cbf99"/>
<text x="77.20" y="401.61" font-size="6.5" fill="#333" text-anchor="end" font-style="italic">PTPN11</text>
<rect x="184.00" y="395.35" width="1.50" height="7.92" fill="#5cbf99"/>
<rect x="264.50" y="395.35" width="1.50" height="7.92" fill="#5cbf99"/>
<rect x="374.00" y="395.35" width="1.30" height="7.92" fill="#5cbf99"/>
<rect x="377.00" y="395.35" width="1.30" height="7.92" fill="#5cbf99"/>
<text x="77.20" y="410.74" font-size="6.5" fill="#333" text-anchor="end" font-style="italic">FLT3</text>
<rect x="141.00" y="404.48" width="1.50" height="7.92" fill="#5cbf99"/>
<rect x="80.10" y="416.10" width="252.30" height="36.20" rx="0.9" fill="#ffffff" stroke="#686a6a" stroke-width="1"/>
<rect x="81.40" y="416.65" width="249.70" height="7.95" fill="#f6f9fa"/>
<rect x="81.40" y="425.70" width="249.70" height="7.95" fill="#f6f9fa"/>
<rect x="81.40" y="434.75" width="249.70" height="7.95" fill="#f6f9fa"/>
<rect x="81.40" y="443.80" width="249.70" height="7.95" fill="#f6f9fa"/>
<rect x="335.40" y="416.10" width="86.30" height="36.20" rx="0.9" fill="#ffffff" stroke="#686a6a" stroke-width="1"/>
<rect x="336.70" y="416.65" width="83.70" height="7.95" fill="#f6f9fa"/>
<rect x="336.70" y="425.70" width="83.70" height="7.95" fill="#f6f9fa"/>
<rect x="336.70" y="434.75" width="83.70" height="7.95" fill="#f6f9fa"/>
<rect x="336.70" y="443.80" width="83.70" height="7.95" fill="#f6f9fa"/>
<text x="77.20" y="422.93" font-size="6.5" fill="#333" text-anchor="end" font-style="italic">NF1</text>
<rect x="86.50" y="416.70" width="1.30" height="7.85" fill="#5cbf99"/>
<rect x="179.50" y="419.27" width="1.30" height="2.70" fill="#1f56b8"/>
<rect x="280.50" y="419.27" width="1.30" height="2.70" fill="#1f56b8"/>
<rect x="300.50" y="419.27" width="2.50" height="2.70" fill="#9c1222"/>
<rect x="314.50" y="419.27" width="1.30" height="2.70" fill="#9c1222"/>
<rect x="337.00" y="416.70" width="1.30" height="7.85" fill="#22302d"/>
<rect x="352.50" y="416.70" width="1.30" height="7.85" fill="#22302d"/>
<rect x="354.00" y="419.27" width="1.30" height="2.70" fill="#1f56b8"/>
<rect x="357.00" y="419.27" width="3.00" height="2.70" fill="#1f56b8"/>
<rect x="362.00" y="416.70" width="1.30" height="7.85" fill="#22302d"/>
<rect x="363.00" y="419.27" width="1.30" height="2.70" fill="#1f56b8"/>
<rect x="382.50" y="416.70" width="1.30" height="7.85" fill="#22302d"/>
<rect x="384.00" y="419.27" width="2.00" height="2.70" fill="#1f56b8"/>
<rect x="388.00" y="416.70" width="1.30" height="7.85" fill="#22302d"/>
<rect x="389.50" y="419.27" width="1.30" height="2.70" fill="#1f56b8"/>
<rect x="401.00" y="416.70" width="1.30" height="7.85" fill="#22302d"/>
<rect x="408.00" y="419.27" width="1.30" height="2.70" fill="#1f56b8"/>
<rect x="418.00" y="419.27" width="1.30" height="2.70" fill="#1f56b8"/>
<text x="77.20" y="431.98" font-size="6.5" fill="#333" text-anchor="end" font-style="italic">NRAS</text>
<rect x="82.00" y="425.75" width="1.30" height="7.85" fill="#5cbf99"/>
<rect x="114.50" y="425.75" width="1.30" height="7.85" fill="#5cbf99"/>
<rect x="145.50" y="425.75" width="1.30" height="7.85" fill="#5cbf99"/>
<rect x="182.50" y="425.75" width="1.30" height="7.85" fill="#5cbf99"/>
<rect x="193.50" y="425.75" width="1.50" height="7.85" fill="#5cbf99"/>
<rect x="220.00" y="425.75" width="2.50" height="7.85" fill="#5cbf99"/>
<rect x="248.00" y="425.75" width="1.30" height="7.85" fill="#22302d"/>
<rect x="251.50" y="425.75" width="1.30" height="7.85" fill="#5cbf99"/>
<rect x="258.50" y="425.75" width="1.50" height="7.85" fill="#22302d"/>
<rect x="260.00" y="425.75" width="1.30" height="7.85" fill="#5cbf99"/>
<rect x="271.00" y="425.75" width="1.30" height="7.85" fill="#5cbf99"/>
<rect x="277.50" y="425.75" width="1.30" height="7.85" fill="#5cbf99"/>
<rect x="303.50" y="425.75" width="1.50" height="7.85" fill="#22302d"/>
<rect x="308.50" y="425.75" width="1.50" height="7.85" fill="#5cbf99"/>
<rect x="338.00" y="425.75" width="1.30" height="7.85" fill="#22302d"/>
<rect x="386.50" y="425.75" width="1.30" height="7.85" fill="#5cbf99"/>
<rect x="394.00" y="425.75" width="4.00" height="7.85" fill="#5cbf99"/>
<text x="77.20" y="441.03" font-size="6.5" fill="#333" text-anchor="end" font-style="italic">PTPN2</text>
<rect x="80.80" y="437.38" width="1.30" height="2.70" fill="#1f56b8"/>
<rect x="86.00" y="437.38" width="1.30" height="2.70" fill="#1f56b8"/>
<rect x="89.00" y="437.38" width="1.30" height="2.70" fill="#1f56b8"/>
<rect x="97.50" y="437.38" width="1.30" height="2.70" fill="#1f56b8"/>
<rect x="102.00" y="437.38" width="1.30" height="2.70" fill="#1f56b8"/>
<rect x="114.50" y="437.38" width="1.30" height="2.70" fill="#1f56b8"/>
<rect x="125.00" y="437.38" width="2.00" height="2.70" fill="#1f56b8"/>
<rect x="137.50" y="437.38" width="1.30" height="2.70" fill="#1f56b8"/>
<rect x="145.00" y="437.38" width="4.50" height="2.70" fill="#1f56b8"/>
<rect x="223.00" y="437.38" width="1.30" height="2.70" fill="#1f56b8"/>
<rect x="272.50" y="437.38" width="1.30" height="2.70" fill="#1f56b8"/>
<rect x="336.10" y="437.38" width="1.30" height="2.70" fill="#1f56b8"/>
<rect x="351.00" y="437.38" width="1.30" height="2.70" fill="#1f56b8"/>
<rect x="355.50" y="437.38" width="1.30" height="2.70" fill="#1f56b8"/>
<rect x="371.00" y="437.38" width="1.30" height="2.70" fill="#1f56b8"/>
<rect x="402.00" y="434.80" width="1.30" height="7.85" fill="#22302d"/>
<text x="77.20" y="450.07" font-size="6.5" fill="#333" text-anchor="end" font-style="italic">KRAS</text>
<rect x="126.50" y="443.85" width="1.30" height="7.85" fill="#22302d"/>
<rect x="153.00" y="443.85" width="1.30" height="7.85" fill="#5cbf99"/>
<rect x="176.50" y="443.85" width="1.30" height="7.85" fill="#5cbf99"/>
<rect x="181.00" y="443.85" width="1.50" height="7.85" fill="#22302d"/>
<rect x="192.00" y="443.85" width="1.30" height="7.85" fill="#22302d"/>
<rect x="262.00" y="443.85" width="1.30" height="7.85" fill="#5cbf99"/>
<rect x="327.50" y="443.85" width="1.30" height="7.85" fill="#5cbf99"/>
<rect x="408.50" y="443.85" width="1.30" height="7.85" fill="#5cbf99"/>
<rect x="80.10" y="455.50" width="252.30" height="36.20" rx="0.9" fill="#ffffff" stroke="#686a6a" stroke-width="1"/>
<rect x="81.40" y="456.05" width="249.70" height="7.95" fill="#f6f9fa"/>
<rect x="81.40" y="465.10" width="249.70" height="7.95" fill="#f6f9fa"/>
<rect x="81.40" y="474.15" width="249.70" height="7.95" fill="#f6f9fa"/>
<rect x="81.40" y="483.20" width="249.70" height="7.95" fill="#f6f9fa"/>
<rect x="335.40" y="455.50" width="86.30" height="36.20" rx="0.9" fill="#ffffff" stroke="#686a6a" stroke-width="1"/>
<rect x="336.70" y="456.05" width="83.70" height="7.95" fill="#f6f9fa"/>
<rect x="336.70" y="465.10" width="83.70" height="7.95" fill="#f6f9fa"/>
<rect x="336.70" y="474.15" width="83.70" height="7.95" fill="#f6f9fa"/>
<rect x="336.70" y="483.20" width="83.70" height="7.95" fill="#f6f9fa"/>
<text x="77.20" y="462.32" font-size="6.5" fill="#333" text-anchor="end" font-style="italic">PTEN</text>
<rect x="116.00" y="456.10" width="2.50" height="7.85" fill="#34433f"/>
<rect x="136.00" y="456.10" width="1.30" height="7.85" fill="#36d21e"/>
<rect x="162.00" y="456.10" width="1.50" height="7.85" fill="#22302d"/>
<rect x="175.00" y="456.10" width="1.30" height="7.85" fill="#22302d"/>
<rect x="193.50" y="456.10" width="1.50" height="7.85" fill="#22302d"/>
<rect x="202.50" y="456.10" width="4.00" height="7.85" fill="#34433f"/>
<rect x="208.00" y="458.67" width="1.30" height="2.70" fill="#1f56b8"/>
<rect x="209.00" y="456.10" width="1.30" height="7.85" fill="#22302d"/>
<rect x="240.00" y="456.10" width="1.50" height="7.85" fill="#5cbf99"/>
<rect x="252.50" y="456.10" width="1.30" height="7.85" fill="#22302d"/>
<rect x="274.00" y="456.10" width="3.00" height="7.85" fill="#34433f"/>
<rect x="280.50" y="458.67" width="1.30" height="2.70" fill="#1f56b8"/>
<rect x="287.50" y="456.10" width="3.00" height="7.85" fill="#34433f"/>
<rect x="290.50" y="456.10" width="1.50" height="7.85" fill="#36d21e"/>
<rect x="292.50" y="458.67" width="1.30" height="2.70" fill="#1f56b8"/>
<rect x="294.00" y="456.10" width="4.00" height="7.85" fill="#34433f"/>
<rect x="298.50" y="458.67" width="1.30" height="2.70" fill="#1f56b8"/>
<rect x="308.50" y="456.10" width="1.50" height="7.85" fill="#5cbf99"/>
<rect x="354.00" y="456.10" width="1.30" height="7.85" fill="#22302d"/>
<rect x="372.50" y="456.10" width="1.30" height="7.85" fill="#22302d"/>
<rect x="409.50" y="456.10" width="1.30" height="7.85" fill="#22302d"/>
<text x="77.20" y="471.38" font-size="6.5" fill="#333" text-anchor="end" font-style="italic">PIK3R1</text>
<rect x="97.50" y="465.15" width="1.50" height="7.85" fill="#5cbf99"/>
<rect x="184.00" y="465.15" width="1.50" height="7.85" fill="#5cbf99"/>
<rect x="190.50" y="465.15" width="1.50" height="7.85" fill="#5cbf99"/>
<rect x="213.50" y="465.15" width="1.50" height="7.85" fill="#5cbf99"/>
<rect x="300.50" y="465.15" width="1.50" height="7.85" fill="#f9b262"/>
<rect x="354.00" y="465.15" width="1.30" height="7.85" fill="#f46a1c"/>
<rect x="386.50" y="465.15" width="1.50" height="7.85" fill="#5a32f0"/>
<text x="77.20" y="480.43" font-size="6.5" fill="#333" text-anchor="end" font-style="italic">PIK3CA</text>
<rect x="102.00" y="474.20" width="1.50" height="7.85" fill="#5cbf99"/>
<rect x="190.50" y="474.20" width="1.50" height="7.85" fill="#5cbf99"/>
<rect x="202.50" y="474.20" width="1.50" height="7.85" fill="#5cbf99"/>
<rect x="341.50" y="474.20" width="1.30" height="7.85" fill="#22302d"/>
<rect x="388.00" y="474.20" width="1.30" height="7.85" fill="#5cbf99"/>
<text x="77.20" y="489.47" font-size="6.5" fill="#333" text-anchor="end" font-style="italic">AKT1</text>
<rect x="164.00" y="483.25" width="1.30" height="7.85" fill="#5cbf99"/>
<rect x="313.00" y="483.25" width="1.30" height="7.85" fill="#5cbf99"/>
<text x="28.60" y="135.70" font-size="9.6" fill="#1a1a1a" text-anchor="middle" textLength="44.2" lengthAdjust="spacingAndGlyphs" transform="rotate(-90 28.60 135.70)" stroke="#1a1a1a" stroke-width="0.22">Transcription</text>
<text x="40.60" y="135.70" font-size="9.6" fill="#1a1a1a" text-anchor="middle" textLength="23.8" lengthAdjust="spacingAndGlyphs" transform="rotate(-90 40.60 135.70)" stroke="#1a1a1a" stroke-width="0.22">Factors</text>
<text x="28.60" y="220.00" font-size="9.6" fill="#1a1a1a" text-anchor="middle" textLength="37.4" lengthAdjust="spacingAndGlyphs" transform="rotate(-90 28.60 220.00)" stroke="#1a1a1a" stroke-width="0.22">Epigenetic</text>
<text x="40.60" y="220.00" font-size="9.6" fill="#1a1a1a" text-anchor="middle" textLength="23.6" lengthAdjust="spacingAndGlyphs" transform="rotate(-90 40.60 220.00)" stroke="#1a1a1a" stroke-width="0.22">Factors</text>
<text x="37.70" y="291.30" font-size="10.2" fill="#1a1a1a" text-anchor="middle" textLength="17.7" lengthAdjust="spacingAndGlyphs" transform="rotate(-90 37.70 291.30)" stroke="#1a1a1a" stroke-width="0.22">PRC2</text>
<text x="32.00" y="315.70" font-size="9.0" fill="#1a1a1a" text-anchor="middle" textLength="28.6" lengthAdjust="spacingAndGlyphs" stroke="#1a1a1a" stroke-width="0.22">NOTCH1</text>
<text x="32.10" y="327.10" font-size="9.0" fill="#1a1a1a" text-anchor="middle" textLength="33.0" lengthAdjust="spacingAndGlyphs" stroke="#1a1a1a" stroke-width="0.22">Signaling</text>
<text x="32.20" y="335.60" font-size="7.4" fill="#1a1a1a" text-anchor="middle" textLength="26.0" lengthAdjust="spacingAndGlyphs" stroke="#1a1a1a" stroke-width="0.2">Cell Cycle</text>
<text x="28.90" y="377.10" font-size="9.6" fill="#1a1a1a" text-anchor="middle" textLength="31.2" lengthAdjust="spacingAndGlyphs" transform="rotate(-90 28.90 377.10)" stroke="#1a1a1a" stroke-width="0.22">JAK/STAT</text>
<text x="40.20" y="377.10" font-size="9.6" fill="#1a1a1a" text-anchor="middle" textLength="33.0" lengthAdjust="spacingAndGlyphs" transform="rotate(-90 40.20 377.10)" stroke="#1a1a1a" stroke-width="0.22">Signaling</text>
<text x="28.90" y="433.20" font-size="9.6" fill="#1a1a1a" text-anchor="middle" textLength="12.9" lengthAdjust="spacingAndGlyphs" transform="rotate(-90 28.90 433.20)" stroke="#1a1a1a" stroke-width="0.22">RAS</text>
<text x="40.60" y="433.20" font-size="9.6" fill="#1a1a1a" text-anchor="middle" textLength="33.0" lengthAdjust="spacingAndGlyphs" transform="rotate(-90 40.60 433.20)" stroke="#1a1a1a" stroke-width="0.22">Signaling</text>
<text x="28.90" y="475.80" font-size="9.6" fill="#1a1a1a" text-anchor="middle" textLength="17.7" lengthAdjust="spacingAndGlyphs" transform="rotate(-90 28.90 475.80)" stroke="#1a1a1a" stroke-width="0.22">PI3K</text>
<text x="40.60" y="475.80" font-size="9.6" fill="#1a1a1a" text-anchor="middle" textLength="32.4" lengthAdjust="spacingAndGlyphs" transform="rotate(-90 40.60 475.80)" stroke="#1a1a1a" stroke-width="0.22">Signaling</text>
<text x="481.40" y="80.80" font-size="6.6" fill="#555" text-anchor="middle" textLength="43.1" lengthAdjust="spacingAndGlyphs">Frequency (%)</text>
<circle cx="454.2" cy="87.9" r="3.0" fill="#d3e1dc"/>
<text x="459.10" y="90.80" font-size="6.8" fill="#444" textLength="7.4" lengthAdjust="spacingAndGlyphs">20</text>
<circle cx="476.0" cy="87.9" r="4.0" fill="#d3e1dc"/>
<text x="482.00" y="90.80" font-size="6.8" fill="#444" textLength="7.4" lengthAdjust="spacingAndGlyphs">40</text>
<circle cx="497.9" cy="87.9" r="4.6" fill="#d3e1dc"/>
<text x="504.20" y="90.80" font-size="6.8" fill="#444" textLength="7.4" lengthAdjust="spacingAndGlyphs">60</text>
<line x1="455.5" y1="105" x2="455.5" y2="492.4" stroke="#111" stroke-width="1.2"/>
<line x1="454.3" y1="491.8" x2="504.8" y2="491.8" stroke="#111" stroke-width="1.3"/>
<line x1="467.9" y1="492" x2="467.9" y2="494.2" stroke="#1a1a1a" stroke-width="0.9"/>
<line x1="491.3" y1="492" x2="491.3" y2="494.2" stroke="#1a1a1a" stroke-width="0.9"/>
<text x="467.90" y="501.10" font-size="6.4" fill="#333" text-anchor="middle" textLength="10.1" lengthAdjust="spacingAndGlyphs">WT</text>
<text x="491.40" y="501.10" font-size="6.4" fill="#333" text-anchor="middle" textLength="21.7" lengthAdjust="spacingAndGlyphs">Altered</text>
<text x="450.80" y="113.30" font-size="6.5" fill="#333" text-anchor="end" font-style="italic">BCL11B</text>
<line x1="452.3" y1="111.00" x2="455" y2="111.00" stroke="#111" stroke-width="1.05"/>
<circle cx="467.9" cy="111.00" r="3.9" fill="#c4dde3"/>
<circle cx="491.2" cy="111.00" r="2.4" fill="#d06f98"/>
<circle cx="501.60" cy="111.00" r="0.95" fill="#111"/>
<circle cx="504.30" cy="111.00" r="0.95" fill="#111"/>
<circle cx="507.00" cy="111.00" r="0.95" fill="#111"/>
<text x="450.80" y="122.93" font-size="6.5" fill="#333" text-anchor="end" font-style="italic">LEF1</text>
<line x1="452.3" y1="120.63" x2="455" y2="120.63" stroke="#111" stroke-width="1.05"/>
<circle cx="467.9" cy="120.63" r="3.1" fill="#c4dde3"/>
<circle cx="491.2" cy="120.63" r="2.6" fill="#d06f98"/>
<circle cx="504.30" cy="120.63" r="0.95" fill="#111"/>
<text x="450.80" y="132.56" font-size="6.5" fill="#333" text-anchor="end" font-style="italic">WT1</text>
<line x1="452.3" y1="130.26" x2="455" y2="130.26" stroke="#111" stroke-width="1.05"/>
<circle cx="467.9" cy="130.26" r="2.5" fill="#c4dde3"/>
<circle cx="491.2" cy="130.26" r="4.2" fill="#d06f98"/>
<circle cx="501.60" cy="130.26" r="0.95" fill="#111"/>
<circle cx="504.30" cy="130.26" r="0.95" fill="#111"/>
<circle cx="507.00" cy="130.26" r="0.95" fill="#111"/>
<text x="450.80" y="142.19" font-size="6.5" fill="#333" text-anchor="end" font-style="italic">ETV6</text>
<line x1="452.3" y1="139.89" x2="455" y2="139.89" stroke="#111" stroke-width="1.05"/>
<circle cx="467.9" cy="139.89" r="2.0" fill="#c4dde3"/>
<circle cx="491.2" cy="139.89" r="2.6" fill="#d06f98"/>
<text x="450.80" y="151.82" font-size="6.5" fill="#333" text-anchor="end" font-style="italic">ZEB1</text>
<line x1="452.3" y1="149.52" x2="455" y2="149.52" stroke="#111" stroke-width="1.05"/>
<circle cx="467.9" cy="149.52" r="1.75" fill="#c4dde3"/>
<circle cx="491.2" cy="149.52" r="2.6" fill="#d06f98"/>
<text x="450.80" y="161.45" font-size="6.5" fill="#333" text-anchor="end" font-style="italic">GATA3</text>
<line x1="452.3" y1="159.15" x2="455" y2="159.15" stroke="#111" stroke-width="1.05"/>
<circle cx="491.2" cy="159.15" r="2.05" fill="#d06f98"/>
<text x="450.80" y="171.08" font-size="6.5" fill="#333" text-anchor="end" font-style="italic">PHF6</text>
<line x1="452.3" y1="168.78" x2="455" y2="168.78" stroke="#111" stroke-width="1.05"/>
<circle cx="467.9" cy="168.78" r="4.5" fill="#c4dde3"/>
<circle cx="491.2" cy="168.78" r="5.6" fill="#d06f98"/>
<text x="450.80" y="180.72" font-size="6.5" fill="#333" text-anchor="end" font-style="italic">DNMT3A</text>
<line x1="452.3" y1="178.42" x2="455" y2="178.42" stroke="#111" stroke-width="1.05"/>
<circle cx="467.9" cy="178.42" r="3.0" fill="#c4dde3"/>
<circle cx="491.2" cy="178.42" r="2.6" fill="#d06f98"/>
<text x="450.80" y="190.35" font-size="6.5" fill="#333" text-anchor="end" font-style="italic">KMT2D</text>
<line x1="452.3" y1="188.05" x2="455" y2="188.05" stroke="#111" stroke-width="1.05"/>
<circle cx="467.9" cy="188.05" r="2.9" fill="#c4dde3"/>
<circle cx="491.2" cy="188.05" r="3.0" fill="#d06f98"/>
<text x="450.80" y="199.98" font-size="6.5" fill="#333" text-anchor="end" font-style="italic">CTCF</text>
<line x1="452.3" y1="197.68" x2="455" y2="197.68" stroke="#111" stroke-width="1.05"/>
<circle cx="467.9" cy="197.68" r="2.0" fill="#c4dde3"/>
<circle cx="491.2" cy="197.68" r="3.5" fill="#d06f98"/>
<circle cx="502.95" cy="197.68" r="0.95" fill="#111"/>
<circle cx="505.65" cy="197.68" r="0.95" fill="#111"/>
<text x="450.80" y="209.61" font-size="6.5" fill="#333" text-anchor="end" font-style="italic">KMT2A</text>
<line x1="452.3" y1="207.31" x2="455" y2="207.31" stroke="#111" stroke-width="1.05"/>
<circle cx="467.9" cy="207.31" r="2.4" fill="#c4dde3"/>
<circle cx="491.2" cy="207.31" r="3.0" fill="#d06f98"/>
<text x="450.80" y="219.24" font-size="6.5" fill="#333" text-anchor="end" font-style="italic">ASXL1</text>
<line x1="452.3" y1="216.94" x2="455" y2="216.94" stroke="#111" stroke-width="1.05"/>
<circle cx="467.9" cy="216.94" r="2.4" fill="#c4dde3"/>
<circle cx="491.2" cy="216.94" r="3.0" fill="#d06f98"/>
<text x="450.80" y="228.87" font-size="6.5" fill="#333" text-anchor="end" font-style="italic">EP300</text>
<line x1="452.3" y1="226.57" x2="455" y2="226.57" stroke="#111" stroke-width="1.05"/>
<circle cx="467.9" cy="226.57" r="2.2" fill="#c4dde3"/>
<circle cx="491.2" cy="226.57" r="3.25" fill="#d06f98"/>
<text x="450.80" y="238.50" font-size="6.5" fill="#333" text-anchor="end" font-style="italic">SETD2</text>
<line x1="452.3" y1="236.20" x2="455" y2="236.20" stroke="#111" stroke-width="1.05"/>
<circle cx="467.9" cy="236.20" r="2.2" fill="#c4dde3"/>
<circle cx="491.2" cy="236.20" r="2.6" fill="#d06f98"/>
<text x="450.80" y="248.13" font-size="6.5" fill="#333" text-anchor="end" font-style="italic">IDH2</text>
<line x1="452.3" y1="245.83" x2="455" y2="245.83" stroke="#111" stroke-width="1.05"/>
<circle cx="467.9" cy="245.83" r="2.0" fill="#c4dde3"/>
<circle cx="491.2" cy="245.83" r="2.0" fill="#d06f98"/>
<text x="450.80" y="257.76" font-size="6.5" fill="#333" text-anchor="end" font-style="italic">TET2</text>
<line x1="452.3" y1="255.46" x2="455" y2="255.46" stroke="#111" stroke-width="1.05"/>
<circle cx="467.9" cy="255.46" r="2.1" fill="#c4dde3"/>
<circle cx="491.2" cy="255.46" r="2.1" fill="#d06f98"/>
<text x="450.80" y="267.39" font-size="6.5" fill="#333" text-anchor="end" font-style="italic">TET3</text>
<line x1="452.3" y1="265.09" x2="455" y2="265.09" stroke="#111" stroke-width="1.05"/>
<circle cx="467.9" cy="265.09" r="1.8" fill="#c4dde3"/>
<circle cx="491.2" cy="265.09" r="2.5" fill="#d06f98"/>
<text x="450.80" y="277.02" font-size="6.5" fill="#333" text-anchor="end" font-style="italic">IDH1</text>
<line x1="452.3" y1="274.72" x2="455" y2="274.72" stroke="#111" stroke-width="1.05"/>
<circle cx="467.9" cy="274.72" r="1.9" fill="#c4dde3"/>
<circle cx="491.2" cy="274.72" r="2.2" fill="#d06f98"/>
<text x="450.80" y="286.65" font-size="6.5" fill="#333" text-anchor="end" font-style="italic">SUZ12</text>
<line x1="452.3" y1="284.35" x2="455" y2="284.35" stroke="#111" stroke-width="1.05"/>
<circle cx="491.2" cy="284.35" r="6.1" fill="#d06f98"/>
<circle cx="501.60" cy="284.35" r="0.95" fill="#111"/>
<circle cx="504.30" cy="284.35" r="0.95" fill="#111"/>
<circle cx="507.00" cy="284.35" r="0.95" fill="#111"/>
<text x="450.80" y="296.28" font-size="6.5" fill="#333" text-anchor="end" font-style="italic">EED</text>
<line x1="452.3" y1="293.98" x2="455" y2="293.98" stroke="#111" stroke-width="1.05"/>
<circle cx="491.2" cy="293.98" r="4.4" fill="#d06f98"/>
<circle cx="501.60" cy="293.98" r="0.95" fill="#111"/>
<circle cx="504.30" cy="293.98" r="0.95" fill="#111"/>
<circle cx="507.00" cy="293.98" r="0.95" fill="#111"/>
<text x="450.80" y="305.92" font-size="6.5" fill="#333" text-anchor="end" font-style="italic">EZH2</text>
<line x1="452.3" y1="303.62" x2="455" y2="303.62" stroke="#111" stroke-width="1.05"/>
<circle cx="491.2" cy="303.62" r="4.2" fill="#d06f98"/>
<circle cx="501.60" cy="303.62" r="0.95" fill="#111"/>
<circle cx="504.30" cy="303.62" r="0.95" fill="#111"/>
<circle cx="507.00" cy="303.62" r="0.95" fill="#111"/>
<text x="450.80" y="315.55" font-size="6.5" fill="#333" text-anchor="end" font-style="italic">NOTCH1</text>
<line x1="452.3" y1="313.25" x2="455" y2="313.25" stroke="#111" stroke-width="1.05"/>
<circle cx="467.9" cy="313.25" r="6.05" fill="#c4dde3"/>
<circle cx="491.2" cy="313.25" r="6.1" fill="#d06f98"/>
<text x="450.80" y="325.18" font-size="6.5" fill="#333" text-anchor="end" font-style="italic">FBXW7</text>
<line x1="452.3" y1="322.88" x2="455" y2="322.88" stroke="#111" stroke-width="1.05"/>
<circle cx="467.9" cy="322.88" r="3.7" fill="#c4dde3"/>
<circle cx="491.2" cy="322.88" r="3.25" fill="#d06f98"/>
<circle cx="504.30" cy="322.88" r="0.95" fill="#111"/>
<text x="450.80" y="334.81" font-size="6.5" fill="#333" text-anchor="end" font-style="italic">CDKN2A</text>
<line x1="452.3" y1="332.51" x2="455" y2="332.51" stroke="#111" stroke-width="1.05"/>
<circle cx="467.9" cy="332.51" r="6.05" fill="#c4dde3"/>
<circle cx="491.2" cy="332.51" r="4.2" fill="#d06f98"/>
<circle cx="501.60" cy="332.51" r="0.95" fill="#111"/>
<circle cx="504.30" cy="332.51" r="0.95" fill="#111"/>
<circle cx="507.00" cy="332.51" r="0.95" fill="#111"/>
<text x="450.80" y="344.44" font-size="6.5" fill="#333" text-anchor="end" font-style="italic">DNM2</text>
<line x1="452.3" y1="342.14" x2="455" y2="342.14" stroke="#111" stroke-width="1.05"/>
<circle cx="467.9" cy="342.14" r="3.25" fill="#c4dde3"/>
<circle cx="491.2" cy="342.14" r="4.2" fill="#d06f98"/>
<text x="450.80" y="354.07" font-size="6.5" fill="#333" text-anchor="end" font-style="italic">JAK3</text>
<line x1="452.3" y1="351.77" x2="455" y2="351.77" stroke="#111" stroke-width="1.05"/>
<circle cx="467.9" cy="351.77" r="3.1" fill="#c4dde3"/>
<circle cx="491.2" cy="351.77" r="4.9" fill="#d06f98"/>
<circle cx="501.60" cy="351.77" r="0.95" fill="#111"/>
<circle cx="504.30" cy="351.77" r="0.95" fill="#111"/>
<circle cx="507.00" cy="351.77" r="0.95" fill="#111"/>
<text x="450.80" y="363.70" font-size="6.5" fill="#333" text-anchor="end" font-style="italic">IL7R</text>
<line x1="452.3" y1="361.40" x2="455" y2="361.40" stroke="#111" stroke-width="1.05"/>
<circle cx="467.9" cy="361.40" r="2.7" fill="#c4dde3"/>
<circle cx="491.2" cy="361.40" r="3.9" fill="#d06f98"/>
<circle cx="504.30" cy="361.40" r="0.95" fill="#111"/>
<text x="450.80" y="373.33" font-size="6.5" fill="#333" text-anchor="end" font-style="italic">JAK1</text>
<line x1="452.3" y1="371.03" x2="455" y2="371.03" stroke="#111" stroke-width="1.05"/>
<circle cx="467.9" cy="371.03" r="2.5" fill="#c4dde3"/>
<circle cx="491.2" cy="371.03" r="3.9" fill="#d06f98"/>
<circle cx="504.30" cy="371.03" r="0.95" fill="#111"/>
<text x="450.80" y="382.96" font-size="6.5" fill="#333" text-anchor="end" font-style="italic">SH2B3</text>
<line x1="452.3" y1="380.66" x2="455" y2="380.66" stroke="#111" stroke-width="1.05"/>
<circle cx="467.9" cy="380.66" r="2.5" fill="#c4dde3"/>
<circle cx="491.2" cy="380.66" r="3.0" fill="#d06f98"/>
<text x="450.80" y="392.59" font-size="6.5" fill="#333" text-anchor="end" font-style="italic">STAT5B</text>
<line x1="452.3" y1="390.29" x2="455" y2="390.29" stroke="#111" stroke-width="1.05"/>
<circle cx="467.9" cy="390.29" r="2.1" fill="#c4dde3"/>
<circle cx="491.2" cy="390.29" r="3.5" fill="#d06f98"/>
<circle cx="504.30" cy="390.29" r="0.95" fill="#111"/>
<text x="450.80" y="402.22" font-size="6.5" fill="#333" text-anchor="end" font-style="italic">PTPN11</text>
<line x1="452.3" y1="399.92" x2="455" y2="399.92" stroke="#111" stroke-width="1.05"/>
<circle cx="467.9" cy="399.92" r="1.6" fill="#c4dde3"/>
<circle cx="491.2" cy="399.92" r="2.5" fill="#d06f98"/>
<text x="450.80" y="411.85" font-size="6.5" fill="#333" text-anchor="end" font-style="italic">FLT3</text>
<line x1="452.3" y1="409.55" x2="455" y2="409.55" stroke="#111" stroke-width="1.05"/>
<circle cx="467.9" cy="409.55" r="1.0" fill="#c4dde3"/>
<text x="450.80" y="421.48" font-size="6.5" fill="#333" text-anchor="end" font-style="italic">NF1</text>
<line x1="452.3" y1="419.18" x2="455" y2="419.18" stroke="#111" stroke-width="1.05"/>
<circle cx="467.9" cy="419.18" r="2.2" fill="#c4dde3"/>
<circle cx="491.2" cy="419.18" r="4.9" fill="#d06f98"/>
<circle cx="501.60" cy="419.18" r="0.95" fill="#111"/>
<circle cx="504.30" cy="419.18" r="0.95" fill="#111"/>
<circle cx="507.00" cy="419.18" r="0.95" fill="#111"/>
<text x="450.80" y="431.12" font-size="6.5" fill="#333" text-anchor="end" font-style="italic">NRAS</text>
<line x1="452.3" y1="428.82" x2="455" y2="428.82" stroke="#111" stroke-width="1.05"/>
<circle cx="467.9" cy="428.82" r="2.9" fill="#c4dde3"/>
<circle cx="491.2" cy="428.82" r="3.2" fill="#d06f98"/>
<text x="450.80" y="440.75" font-size="6.5" fill="#333" text-anchor="end" font-style="italic">PTPN2</text>
<line x1="452.3" y1="438.45" x2="455" y2="438.45" stroke="#111" stroke-width="1.05"/>
<circle cx="467.9" cy="438.45" r="2.9" fill="#c4dde3"/>
<circle cx="491.2" cy="438.45" r="3.3" fill="#d06f98"/>
<text x="450.80" y="450.38" font-size="6.5" fill="#333" text-anchor="end" font-style="italic">KRAS</text>
<line x1="452.3" y1="448.08" x2="455" y2="448.08" stroke="#111" stroke-width="1.05"/>
<circle cx="467.9" cy="448.08" r="2.0" fill="#c4dde3"/>
<circle cx="491.2" cy="448.08" r="2.25" fill="#d06f98"/>
<text x="450.80" y="460.01" font-size="6.5" fill="#333" text-anchor="end" font-style="italic">PTEN</text>
<line x1="452.3" y1="457.71" x2="455" y2="457.71" stroke="#111" stroke-width="1.05"/>
<circle cx="467.9" cy="457.71" r="3.2" fill="#c4dde3"/>
<circle cx="491.2" cy="457.71" r="2.7" fill="#d06f98"/>
<text x="450.80" y="469.64" font-size="6.5" fill="#333" text-anchor="end" font-style="italic">PIK3R1</text>
<line x1="452.3" y1="467.34" x2="455" y2="467.34" stroke="#111" stroke-width="1.05"/>
<circle cx="467.9" cy="467.34" r="2.0" fill="#c4dde3"/>
<circle cx="491.2" cy="467.34" r="2.6" fill="#d06f98"/>
<text x="450.80" y="479.27" font-size="6.5" fill="#333" text-anchor="end" font-style="italic">PIK3CA</text>
<line x1="452.3" y1="476.97" x2="455" y2="476.97" stroke="#111" stroke-width="1.05"/>
<circle cx="467.9" cy="476.97" r="1.8" fill="#c4dde3"/>
<circle cx="491.2" cy="476.97" r="2.6" fill="#d06f98"/>
<text x="450.80" y="488.90" font-size="6.5" fill="#333" text-anchor="end" font-style="italic">AKT1</text>
<line x1="452.3" y1="486.60" x2="455" y2="486.60" stroke="#111" stroke-width="1.05"/>
<circle cx="467.9" cy="486.60" r="1.6" fill="#c4dde3"/>
<text x="54.60" y="500.90" font-size="6.1" fill="#111" font-weight="bold" textLength="62.3" lengthAdjust="spacingAndGlyphs">Immunophenotype</text>
<rect x="54.60" y="504.20" width="6.30" height="5.60" fill="#17262a"/>
<text x="65.40" y="509.10" font-size="6.4" fill="#555">Y</text>
<rect x="54.60" y="511.90" width="6.30" height="5.60" fill="#c9d9d3"/>
<text x="65.40" y="516.80" font-size="6.4" fill="#555">ND</text>
<rect x="54.60" y="519.60" width="6.30" height="5.60" fill="#eef4f3"/>
<text x="65.40" y="524.50" font-size="6.4" fill="#555">N</text>
<text x="123.60" y="500.90" font-size="6.1" fill="#111" font-weight="bold" textLength="45.5" lengthAdjust="spacingAndGlyphs">Risk Classifier</text>
<rect x="123.60" y="504.20" width="6.20" height="5.60" fill="#17262a"/>
<text x="132.90" y="509.10" font-size="6.6" fill="#555" textLength="15" lengthAdjust="spacingAndGlyphs">High</text>
<rect x="123.60" y="511.90" width="6.20" height="5.60" fill="#eef4f3"/>
<text x="132.90" y="516.80" font-size="6.6" fill="#555" textLength="12.7" lengthAdjust="spacingAndGlyphs">Low</text>
<text x="177.80" y="500.90" font-size="6.1" fill="#111" font-weight="bold" textLength="17.3" lengthAdjust="spacingAndGlyphs">PRC2</text>
<rect x="178.20" y="504.20" width="6.60" height="5.60" fill="#9fc3d4"/>
<text x="189.30" y="509.10" font-size="6.6" fill="#555" textLength="10.4" lengthAdjust="spacingAndGlyphs">WT</text>
<rect x="178.20" y="511.90" width="6.60" height="5.60" fill="#b3173f"/>
<text x="189.30" y="516.80" font-size="6.6" fill="#555" textLength="22.6" lengthAdjust="spacingAndGlyphs">Altered</text>
<text x="247.70" y="500.90" font-size="6.1" fill="#111" font-weight="bold" textLength="35.0" lengthAdjust="spacingAndGlyphs">Alterations</text>
<rect x="247.70" y="504.40" width="6.20" height="5.50" fill="#b2e6ef"/>
<text x="257.00" y="509.20" font-size="6.6" fill="#555" textLength="31.2" lengthAdjust="spacingAndGlyphs">Frameshift</text>
<rect x="247.70" y="512.05" width="6.20" height="5.50" fill="#2f80ee"/>
<text x="257.00" y="516.85" font-size="6.6" fill="#555" textLength="59" lengthAdjust="spacingAndGlyphs">Frameshift Deletion</text>
<rect x="247.70" y="519.70" width="6.20" height="5.50" fill="#b3f064"/>
<text x="257.00" y="524.50" font-size="6.6" fill="#555" textLength="48" lengthAdjust="spacingAndGlyphs">Frameshift Indel</text>
<rect x="247.70" y="527.35" width="6.20" height="5.50" fill="#33d11a"/>
<text x="257.00" y="532.15" font-size="6.6" fill="#555" textLength="59" lengthAdjust="spacingAndGlyphs">Frameshift Insertion</text>
<rect x="247.70" y="535.00" width="6.20" height="5.50" fill="#f36ea8"/>
<text x="257.00" y="539.80" font-size="6.6" fill="#555" textLength="25.7" lengthAdjust="spacingAndGlyphs">In Frame</text>
<rect x="322.90" y="504.40" width="6.20" height="5.50" fill="#e8001c"/>
<text x="332.80" y="509.20" font-size="6.6" fill="#555" textLength="53.9" lengthAdjust="spacingAndGlyphs">In Frame Deletion</text>
<rect x="322.90" y="512.05" width="6.20" height="5.50" fill="#fbb163"/>
<text x="332.80" y="516.85" font-size="6.6" fill="#555" textLength="43" lengthAdjust="spacingAndGlyphs">In Frame Indel</text>
<rect x="322.90" y="519.70" width="6.20" height="5.50" fill="#fb6a15"/>
<text x="332.80" y="524.50" font-size="6.6" fill="#555" textLength="53.9" lengthAdjust="spacingAndGlyphs">In Frame Insertion</text>
<rect x="322.90" y="527.35" width="6.20" height="5.50" fill="#5dbb95"/>
<text x="332.80" y="532.15" font-size="6.6" fill="#555" textLength="27.5" lengthAdjust="spacingAndGlyphs">Missense</text>
<rect x="322.90" y="535.00" width="6.20" height="5.50" fill="#d3bbf5"/>
<text x="332.80" y="539.80" font-size="6.6" fill="#555" textLength="29.7" lengthAdjust="spacingAndGlyphs">Nonsense</text>
<rect x="407.00" y="504.40" width="6.20" height="5.50" fill="#0f48a8"/>
<text x="417.20" y="509.20" font-size="6.6" fill="#555" textLength="26.1" lengthAdjust="spacingAndGlyphs">Deletion</text>
<rect x="407.00" y="512.05" width="6.20" height="5.50" fill="#990e0e"/>
<text x="417.20" y="516.85" font-size="6.6" fill="#555" textLength="34.8" lengthAdjust="spacingAndGlyphs">Duplication</text>
<rect x="407.00" y="519.70" width="6.20" height="5.50" fill="#5b2ff6"/>
<text x="417.20" y="524.50" font-size="6.6" fill="#555" textLength="18" lengthAdjust="spacingAndGlyphs">Splice</text>
<rect x="407.00" y="527.35" width="6.20" height="5.50" fill="#14231f"/>
<text x="417.20" y="532.15" font-size="6.6" fill="#555" textLength="21.6" lengthAdjust="spacingAndGlyphs">Multi-hit</text>
<text x="7.90" y="562.90" font-size="11.4" fill="#000" font-weight="bold" textLength="6.6" lengthAdjust="spacingAndGlyphs" stroke="#000" stroke-width="0.55">B</text>
<line x1="45.0" y1="565.70" x2="45.0" y2="695.90" stroke="#000" stroke-width="1.3"/>
<line x1="42.80" y1="566.00" x2="45.0" y2="566.00" stroke="#000" stroke-width="1"/>
<text x="41.40" y="568.80" font-size="7.8" text-anchor="end" textLength="16.2" lengthAdjust="spacingAndGlyphs" stroke="#2a2a2a" stroke-width="0.15">1.00</text>
<line x1="42.80" y1="582.20" x2="45.0" y2="582.20" stroke="#000" stroke-width="1"/>
<text x="41.40" y="585.00" font-size="7.8" text-anchor="end" textLength="16.2" lengthAdjust="spacingAndGlyphs" stroke="#2a2a2a" stroke-width="0.15">0.75</text>
<line x1="42.80" y1="598.40" x2="45.0" y2="598.40" stroke="#000" stroke-width="1"/>
<text x="41.40" y="601.20" font-size="7.8" text-anchor="end" textLength="16.2" lengthAdjust="spacingAndGlyphs" stroke="#2a2a2a" stroke-width="0.15">0.50</text>
<line x1="42.80" y1="614.60" x2="45.0" y2="614.60" stroke="#000" stroke-width="1"/>
<text x="41.40" y="617.40" font-size="7.8" text-anchor="end" textLength="16.2" lengthAdjust="spacingAndGlyphs" stroke="#2a2a2a" stroke-width="0.15">0.25</text>
<line x1="42.80" y1="630.80" x2="45.0" y2="630.80" stroke="#000" stroke-width="1"/>
<text x="41.40" y="633.60" font-size="7.8" text-anchor="end" textLength="16.2" lengthAdjust="spacingAndGlyphs" stroke="#2a2a2a" stroke-width="0.15">0.00</text>
<line x1="42.80" y1="647.00" x2="45.0" y2="647.00" stroke="#000" stroke-width="1"/>
<text x="41.40" y="649.80" font-size="7.8" text-anchor="end" textLength="16.2" lengthAdjust="spacingAndGlyphs" stroke="#2a2a2a" stroke-width="0.15">0.25</text>
<line x1="42.80" y1="663.20" x2="45.0" y2="663.20" stroke="#000" stroke-width="1"/>
<text x="41.40" y="666.00" font-size="7.8" text-anchor="end" textLength="16.2" lengthAdjust="spacingAndGlyphs" stroke="#2a2a2a" stroke-width="0.15">0.50</text>
<line x1="42.80" y1="679.40" x2="45.0" y2="679.40" stroke="#000" stroke-width="1"/>
<text x="41.40" y="682.20" font-size="7.8" text-anchor="end" textLength="16.2" lengthAdjust="spacingAndGlyphs" stroke="#2a2a2a" stroke-width="0.15">0.75</text>
<line x1="42.80" y1="695.60" x2="45.0" y2="695.60" stroke="#000" stroke-width="1"/>
<text x="41.40" y="698.40" font-size="7.8" text-anchor="end" textLength="16.2" lengthAdjust="spacingAndGlyphs" stroke="#2a2a2a" stroke-width="0.15">1.00</text>
<text x="20.60" y="630.80" font-size="8.6" fill="#1a1a1a" text-anchor="middle" textLength="36.5" lengthAdjust="spacingAndGlyphs" transform="rotate(-90 20.60 630.80)" stroke="#1a1a1a" stroke-width="0.2">Frequency</text>
<rect x="51.20" y="560.70" width="15.10" height="6.80" rx="1.5" fill="#d4e1dd"/>
<text x="58.75" y="566.10" font-size="5.8" fill="#555" text-anchor="middle" textLength="10" lengthAdjust="spacingAndGlyphs">ETP</text>
<rect x="70.70" y="560.70" width="27.60" height="6.80" rx="1.5" fill="#d4e1dd"/>
<text x="84.50" y="566.10" font-size="5.8" fill="#555" text-anchor="middle" textLength="24.5" lengthAdjust="spacingAndGlyphs">Immature</text>
<rect x="99.50" y="560.70" width="22.30" height="14.30" rx="1.5" fill="#d4e1dd"/>
<text x="110.65" y="566.75" font-size="5.8" fill="#555" text-anchor="middle" textLength="6.5" lengthAdjust="spacingAndGlyphs">αβ</text>
<text x="110.65" y="572.95" font-size="5.8" fill="#555" text-anchor="middle" textLength="18.5" lengthAdjust="spacingAndGlyphs">lineage</text>
<rect x="48.80" y="621.81" width="20.00" height="8.99" fill="#a0c4d6"/>
<rect x="48.80" y="631.30" width="20.00" height="31.10" fill="#b0173d"/>
<text x="58.80" y="620.51" font-size="7.5" fill="#222" text-anchor="middle" stroke="#222" stroke-width="0.12">19/137</text>
<text x="58.80" y="668.50" font-size="7.5" fill="#222" text-anchor="middle" stroke="#222" stroke-width="0.12">24/50</text>
<text x="61.10" y="695.00" font-size="6.8" fill="#222" text-anchor="middle" textLength="38.6" lengthAdjust="spacingAndGlyphs" transform="rotate(-90 61.10 695.00)"><tspan font-style="italic">p</tspan> = 3.16e-06</text>
<rect x="74.60" y="620.24" width="20.00" height="10.56" fill="#a0c4d6"/>
<rect x="74.60" y="631.30" width="20.00" height="37.58" fill="#b0173d"/>
<text x="84.60" y="618.94" font-size="7.5" fill="#222" text-anchor="middle" stroke="#222" stroke-width="0.12">22/135</text>
<text x="84.60" y="674.98" font-size="7.5" fill="#222" text-anchor="middle" stroke="#222" stroke-width="0.12">29/50</text>
<text x="86.90" y="695.00" font-size="6.8" fill="#222" text-anchor="middle" textLength="38.6" lengthAdjust="spacingAndGlyphs" transform="rotate(-90 86.90 695.00)"><tspan font-style="italic">p</tspan> = 1.96e-07</text>
<rect x="100.50" y="585.20" width="20.00" height="45.60" fill="#a0c4d6"/>
<rect x="100.50" y="631.30" width="20.00" height="22.03" fill="#b0173d"/>
<text x="110.50" y="583.90" font-size="7.5" fill="#222" text-anchor="middle" stroke="#222" stroke-width="0.12">95/135</text>
<text x="110.50" y="659.43" font-size="7.5" fill="#222" text-anchor="middle" stroke="#222" stroke-width="0.12">17/50</text>
<text x="112.80" y="695.00" font-size="6.8" fill="#222" text-anchor="middle" textLength="38.6" lengthAdjust="spacingAndGlyphs" transform="rotate(-90 112.80 695.00)"><tspan font-style="italic">p</tspan> = 8.45e-06</text>
<rect x="123.80" y="607.00" width="32.00" height="16.30" rx="1.8" fill="#a4c6d8"/>
<text x="139.80" y="614.35" font-size="6.8" fill="#eef6fa" text-anchor="middle">PRC2</text>
<text x="139.80" y="621.35" font-size="6.8" fill="#eef6fa" text-anchor="middle">WT</text>
<rect x="123.80" y="638.70" width="32.00" height="16.30" rx="1.8" fill="#b0173d"/>
<text x="139.80" y="646.05" font-size="6.8" fill="#f6e6ea" text-anchor="middle">Altered</text>
<text x="139.80" y="653.05" font-size="6.8" fill="#f6e6ea" text-anchor="middle">PRC2</text>
<text x="170.80" y="562.90" font-size="11.4" fill="#000" font-weight="bold" textLength="8.2" lengthAdjust="spacingAndGlyphs" stroke="#000" stroke-width="0.55">C</text>
<line x1="211.9" y1="565.70" x2="211.9" y2="695.90" stroke="#000" stroke-width="1.3"/>
<line x1="209.70" y1="566.00" x2="211.9" y2="566.00" stroke="#000" stroke-width="1"/>
<text x="208.10" y="568.80" font-size="7.8" text-anchor="end" textLength="16.2" lengthAdjust="spacingAndGlyphs" stroke="#2a2a2a" stroke-width="0.15">1.00</text>
<line x1="209.70" y1="582.20" x2="211.9" y2="582.20" stroke="#000" stroke-width="1"/>
<text x="208.10" y="585.00" font-size="7.8" text-anchor="end" textLength="16.2" lengthAdjust="spacingAndGlyphs" stroke="#2a2a2a" stroke-width="0.15">0.75</text>
<line x1="209.70" y1="598.40" x2="211.9" y2="598.40" stroke="#000" stroke-width="1"/>
<text x="208.10" y="601.20" font-size="7.8" text-anchor="end" textLength="16.2" lengthAdjust="spacingAndGlyphs" stroke="#2a2a2a" stroke-width="0.15">0.50</text>
<line x1="209.70" y1="614.60" x2="211.9" y2="614.60" stroke="#000" stroke-width="1"/>
<text x="208.10" y="617.40" font-size="7.8" text-anchor="end" textLength="16.2" lengthAdjust="spacingAndGlyphs" stroke="#2a2a2a" stroke-width="0.15">0.25</text>
<line x1="209.70" y1="630.80" x2="211.9" y2="630.80" stroke="#000" stroke-width="1"/>
<text x="208.10" y="633.60" font-size="7.8" text-anchor="end" textLength="16.2" lengthAdjust="spacingAndGlyphs" stroke="#2a2a2a" stroke-width="0.15">0.00</text>
<line x1="209.70" y1="647.00" x2="211.9" y2="647.00" stroke="#000" stroke-width="1"/>
<text x="208.10" y="649.80" font-size="7.8" text-anchor="end" textLength="16.2" lengthAdjust="spacingAndGlyphs" stroke="#2a2a2a" stroke-width="0.15">0.25</text>
<line x1="209.70" y1="663.20" x2="211.9" y2="663.20" stroke="#000" stroke-width="1"/>
<text x="208.10" y="666.00" font-size="7.8" text-anchor="end" textLength="16.2" lengthAdjust="spacingAndGlyphs" stroke="#2a2a2a" stroke-width="0.15">0.50</text>
<line x1="209.70" y1="679.40" x2="211.9" y2="679.40" stroke="#000" stroke-width="1"/>
<text x="208.10" y="682.20" font-size="7.8" text-anchor="end" textLength="16.2" lengthAdjust="spacingAndGlyphs" stroke="#2a2a2a" stroke-width="0.15">0.75</text>
<line x1="209.70" y1="695.60" x2="211.9" y2="695.60" stroke="#000" stroke-width="1"/>
<text x="208.10" y="698.40" font-size="7.8" text-anchor="end" textLength="16.2" lengthAdjust="spacingAndGlyphs" stroke="#2a2a2a" stroke-width="0.15">1.00</text>
<text x="186.00" y="630.80" font-size="8.6" fill="#1a1a1a" text-anchor="middle" textLength="36.5" lengthAdjust="spacingAndGlyphs" transform="rotate(-90 186.00 630.80)" stroke="#1a1a1a" stroke-width="0.2">Frequency</text>
<rect x="215.20" y="561.50" width="20.20" height="13.50" rx="1.5" fill="#d4e1dd"/>
<text x="225.30" y="567.15" font-size="5.8" fill="#555" text-anchor="middle" textLength="16" lengthAdjust="spacingAndGlyphs">CALM-</text>
<text x="225.30" y="573.35" font-size="5.8" fill="#555" text-anchor="middle" textLength="13" lengthAdjust="spacingAndGlyphs">AF10</text>
<rect x="239.80" y="561.50" width="15.80" height="6.40" rx="1.5" fill="#d4e1dd"/>
<text x="247.70" y="566.70" font-size="5.8" fill="#555" text-anchor="middle" textLength="13" lengthAdjust="spacingAndGlyphs">TLX1</text>
<rect x="261.70" y="561.50" width="15.80" height="6.40" rx="1.5" fill="#d4e1dd"/>
<text x="269.60" y="566.70" font-size="5.8" fill="#555" text-anchor="middle" textLength="13" lengthAdjust="spacingAndGlyphs">TLX3</text>
<rect x="281.50" y="561.50" width="20.60" height="13.50" rx="1.5" fill="#d4e1dd"/>
<text x="291.80" y="567.15" font-size="5.8" fill="#555" text-anchor="middle" textLength="13" lengthAdjust="spacingAndGlyphs">SIL -</text>
<text x="291.80" y="573.35" font-size="5.8" fill="#555" text-anchor="middle" textLength="12" lengthAdjust="spacingAndGlyphs">TAL1</text>
<rect x="215.20" y="629.07" width="20.10" height="1.73" fill="#a0c4d6"/>
<rect x="215.20" y="631.30" width="20.10" height="7.34" fill="#b0173d"/>
<text x="225.25" y="627.77" font-size="7.5" fill="#222" text-anchor="middle" stroke="#222" stroke-width="0.12">4/150</text>
<text x="225.25" y="644.74" font-size="7.5" fill="#222" text-anchor="middle" stroke="#222" stroke-width="0.12">6/53</text>
<text x="227.55" y="690.00" font-size="6.8" fill="#222" text-anchor="middle" textLength="38.6" lengthAdjust="spacingAndGlyphs" transform="rotate(-90 227.55 690.00)"><tspan font-style="italic">p</tspan> = 2.14e-02</text>
<rect x="237.80" y="611.36" width="20.10" height="19.44" fill="#a0c4d6"/>
<rect x="237.80" y="631.30" width="20.10" height="0.90" fill="#b0173d"/>
<text x="247.85" y="610.06" font-size="7.5" fill="#222" text-anchor="middle" stroke="#222" stroke-width="0.12">45/150</text>
<text x="247.85" y="637.40" font-size="7.5" fill="#222" text-anchor="middle" stroke="#222" stroke-width="0.12">0/53</text>
<text x="250.15" y="690.00" font-size="6.8" fill="#222" text-anchor="middle" textLength="38.6" lengthAdjust="spacingAndGlyphs" transform="rotate(-90 250.15 690.00)"><tspan font-style="italic">p</tspan> = 1.35e-03</text>
<rect x="259.90" y="625.62" width="20.10" height="5.18" fill="#a0c4d6"/>
<rect x="259.90" y="631.30" width="20.10" height="17.12" fill="#b0173d"/>
<text x="269.95" y="624.32" font-size="7.5" fill="#222" text-anchor="middle" stroke="#222" stroke-width="0.12">12/150</text>
<text x="269.95" y="654.52" font-size="7.5" fill="#222" text-anchor="middle" stroke="#222" stroke-width="0.12">14/53</text>
<text x="272.25" y="690.00" font-size="6.8" fill="#222" text-anchor="middle" textLength="38.6" lengthAdjust="spacingAndGlyphs" transform="rotate(-90 272.25 690.00)"><tspan font-style="italic">p</tspan> = 1.81e-07</text>
<rect x="282.10" y="623.89" width="20.10" height="6.91" fill="#a0c4d6"/>
<rect x="282.10" y="631.30" width="20.10" height="2.45" fill="#b0173d"/>
<text x="292.15" y="622.59" font-size="7.5" fill="#222" text-anchor="middle" stroke="#222" stroke-width="0.12">16/150</text>
<text x="292.15" y="639.85" font-size="7.5" fill="#222" text-anchor="middle" stroke="#222" stroke-width="0.12">2/53</text>
<text x="294.45" y="690.00" font-size="6.8" fill="#222" text-anchor="middle" textLength="38.6" lengthAdjust="spacingAndGlyphs" transform="rotate(-90 294.45 690.00)"><tspan font-style="italic">p</tspan> = 1.65e-01</text>
<rect x="308.40" y="606.70" width="31.90" height="16.30" rx="1.8" fill="#a4c6d8"/>
<text x="324.35" y="614.05" font-size="6.8" fill="#eef6fa" text-anchor="middle">PRC2</text>
<text x="324.35" y="621.05" font-size="6.8" fill="#eef6fa" text-anchor="middle">WT</text>
<rect x="308.00" y="638.70" width="32.30" height="17.30" rx="1.8" fill="#b0173d"/>
<text x="324.15" y="646.55" font-size="6.8" fill="#f6e6ea" text-anchor="middle">Altered</text>
<text x="324.15" y="653.55" font-size="6.8" fill="#f6e6ea" text-anchor="middle">PRC2</text>
<rect x="0" y="0" width="1.35" height="721" fill="#000"/>
<rect x="0" y="0" width="520" height="1.3" fill="#000"/>
<rect x="518.4" y="0" width="1.6" height="721" fill="#000"/>
<rect x="0" y="719.4" width="520" height="1.6" fill="#000"/>
</svg>
</body></html>
